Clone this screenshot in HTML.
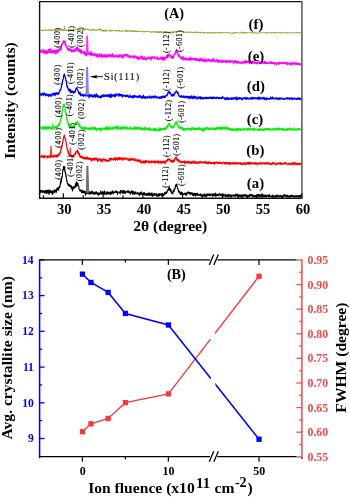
<!DOCTYPE html>
<html><head><meta charset="utf-8"><style>
html,body{margin:0;padding:0;background:#fff;overflow:hidden;}
svg{display:block;}
text{-webkit-font-smoothing:antialiased;}
.b{font-family:"Liberation Serif",serif;font-weight:bold;}
.r{font-family:"Liberation Serif",serif;}
</style></head><body>
<svg width="350" height="497" viewBox="0 0 350 497" style="will-change:transform">

<path d="M301.9,1.6 L39.6,1.6 L39.6,198.3 L301.9,198.3" fill="none" stroke="#111" stroke-width="1.4"/>
<line x1="301.9" y1="1" x2="301.9" y2="199" stroke="#606060" stroke-width="1.6"/>
<line x1="43.48" y1="198.3" x2="43.48" y2="195.3" stroke="#111" stroke-width="1.2"/><line x1="63.35" y1="198.3" x2="63.35" y2="193.3" stroke="#111" stroke-width="1.2"/><line x1="83.22" y1="198.3" x2="83.22" y2="195.3" stroke="#111" stroke-width="1.2"/><line x1="103.10" y1="198.3" x2="103.10" y2="193.3" stroke="#111" stroke-width="1.2"/><line x1="122.98" y1="198.3" x2="122.98" y2="195.3" stroke="#111" stroke-width="1.2"/><line x1="142.85" y1="198.3" x2="142.85" y2="193.3" stroke="#111" stroke-width="1.2"/><line x1="162.73" y1="198.3" x2="162.73" y2="195.3" stroke="#111" stroke-width="1.2"/><line x1="182.60" y1="198.3" x2="182.60" y2="193.3" stroke="#111" stroke-width="1.2"/><line x1="202.47" y1="198.3" x2="202.47" y2="195.3" stroke="#111" stroke-width="1.2"/><line x1="222.35" y1="198.3" x2="222.35" y2="193.3" stroke="#111" stroke-width="1.2"/><line x1="242.22" y1="198.3" x2="242.22" y2="195.3" stroke="#111" stroke-width="1.2"/><line x1="262.10" y1="198.3" x2="262.10" y2="193.3" stroke="#111" stroke-width="1.2"/><line x1="281.98" y1="198.3" x2="281.98" y2="195.3" stroke="#111" stroke-width="1.2"/><line x1="301.85" y1="198.3" x2="301.85" y2="193.3" stroke="#111" stroke-width="1.2"/>
<path d="M40.3,30.36 L40.5,30.93 L40.7,30.88 L40.9,30.21 L41.1,30.33 L41.3,30.22 L41.5,30.65 L41.7,30.37 L41.9,30.68 L42.1,29.62 L42.3,30.99 L42.5,30.25 L42.7,30.55 L42.9,30.23 L43.1,30.14 L43.3,30.50 L43.5,30.55 L43.7,30.15 L43.9,30.16 L44.1,30.45 L44.3,29.82 L44.5,29.55 L44.7,30.34 L44.9,29.96 L45.1,29.39 L45.3,29.85 L45.5,29.98 L45.7,29.65 L45.9,29.51 L46.1,30.11 L46.3,30.43 L46.5,30.07 L46.7,29.86 L46.9,30.31 L47.1,30.49 L47.3,30.06 L47.5,30.30 L47.7,30.51 L47.9,30.07 L48.1,29.93 L48.3,30.35 L48.5,30.35 L48.7,30.71 L48.9,29.71 L49.1,29.92 L49.3,29.88 L49.5,29.53 L49.7,30.23 L49.9,30.41 L50.1,29.86 L50.3,30.68 L50.5,30.63 L50.7,30.50 L50.9,30.39 L51.1,30.62 L51.3,29.71 L51.5,30.44 L51.7,30.46 L51.9,29.58 L52.1,30.40 L52.3,30.14 L52.5,30.48 L52.7,30.05 L52.9,30.15 L53.1,30.31 L53.3,29.94 L53.5,30.49 L53.7,30.28 L53.9,30.54 L54.1,30.02 L54.3,30.71 L54.5,30.57 L54.7,30.22 L54.9,30.50 L55.1,30.73 L55.3,30.94 L55.5,29.62 L55.7,30.51 L55.9,30.33 L56.1,30.06 L56.3,29.66 L56.5,30.50 L56.7,29.45 L56.9,30.17 L57.1,30.50 L57.3,29.33 L57.5,29.79 L57.7,29.41 L57.9,30.06 L58.1,30.61 L58.3,30.83 L58.5,29.30 L58.7,29.80 L58.9,30.31 L59.1,30.71 L59.3,30.26 L59.5,29.76 L59.7,30.20 L59.9,30.01 L60.1,29.96 L60.3,29.71 L60.5,30.13 L60.7,30.12 L60.9,29.97 L61.1,29.87 L61.3,29.40 L61.5,29.73 L61.7,30.36 L61.9,29.81 L62.1,29.31 L62.3,30.41 L62.5,30.12 L62.7,30.76 L62.9,30.01 L63.1,29.77 L63.3,29.34 L63.5,30.50 L63.7,30.97 L63.9,29.70 L64.1,29.86 L64.3,30.43 L64.5,29.94 L64.7,30.16 L64.9,30.15 L65.1,30.33 L65.3,30.68 L65.5,30.29 L65.7,30.49 L65.9,29.97 L66.1,30.25 L66.3,29.36 L66.5,29.58 L66.7,30.44 L66.9,29.84 L67.1,30.26 L67.3,30.18 L67.5,30.47 L67.7,30.32 L67.9,30.39 L68.1,29.98 L68.3,29.67 L68.5,29.70 L68.7,29.90 L68.9,29.61 L69.1,29.88 L69.3,30.00 L69.5,30.10 L69.7,29.87 L69.9,29.24 L70.1,30.00 L70.3,30.16 L70.5,30.40 L70.7,30.21 L70.9,29.76 L71.1,29.73 L71.3,30.82 L71.5,30.23 L71.7,30.67 L71.9,30.75 L72.1,29.61 L72.3,30.05 L72.5,30.14 L72.7,30.14 L72.9,30.16 L73.1,30.03 L73.3,30.04 L73.5,29.39 L73.7,29.85 L73.9,29.57 L74.1,29.89 L74.3,29.66 L74.5,30.12 L74.7,30.17 L74.9,30.01 L75.1,30.01 L75.3,30.03 L75.5,29.79 L75.7,29.93 L75.9,29.70 L76.1,29.94 L76.3,29.73 L76.5,29.94 L76.7,29.24 L76.9,30.15 L77.1,29.48 L77.3,29.46 L77.5,29.64 L77.7,29.49 L77.9,29.78 L78.1,29.43 L78.3,29.19 L78.5,29.29 L78.7,30.13 L78.9,29.70 L79.1,29.28 L79.3,29.81 L79.5,29.25 L79.7,30.54 L79.9,29.24 L80.1,30.00 L80.3,30.02 L80.5,29.24 L80.7,29.91 L80.9,30.17 L81.1,29.93 L81.3,29.88 L81.5,30.12 L81.7,29.83 L81.9,29.90 L82.1,29.75 L82.3,29.95 L82.5,29.35 L82.7,30.07 L82.9,29.60 L83.1,29.42 L83.3,30.00 L83.5,30.56 L83.7,30.24 L83.9,29.66 L84.1,30.15 L84.3,29.69 L84.5,29.80 L84.7,29.84 L84.9,28.89 L85.1,29.81 L85.3,29.32 L85.5,29.39 L85.7,29.00 L85.9,28.90 L86.1,29.05 L86.3,29.69 L86.5,29.94 L86.7,29.34 L86.9,29.77 L87.1,29.23 L87.3,28.54 L87.5,29.31 L87.7,29.44 L87.9,29.13 L88.1,29.40 L88.3,29.57 L88.5,29.10 L88.7,28.89 L88.9,29.49 L89.1,29.53 L89.3,29.53 L89.5,30.10 L89.7,30.38 L89.9,29.56 L90.1,30.02 L90.3,30.17 L90.5,30.13 L90.7,30.25 L90.9,29.71 L91.1,30.14 L91.3,30.64 L91.5,30.12 L91.7,29.59 L91.9,29.97 L92.1,30.23 L92.3,29.92 L92.5,29.56 L92.7,30.36 L92.9,29.37 L93.1,30.02 L93.3,29.81 L93.5,29.36 L93.7,30.34 L93.9,30.04 L94.1,29.53 L94.3,30.15 L94.5,29.86 L94.7,29.27 L94.9,29.80 L95.1,30.14 L95.3,30.33 L95.5,30.11 L95.7,30.12 L95.9,30.29 L96.1,29.98 L96.3,30.50 L96.5,30.16 L96.7,30.19 L96.9,30.19 L97.1,29.53 L97.3,29.63 L97.5,30.38 L97.7,29.91 L97.9,29.67 L98.1,29.90 L98.3,29.46 L98.5,29.73 L98.7,29.29 L98.9,29.58 L99.1,28.86 L99.3,29.95 L99.5,29.14 L99.7,28.67 L99.9,29.25 L100.1,29.28 L100.3,29.52 L100.5,29.12 L100.7,29.82 L100.9,31.06 L101.1,29.34 L101.3,30.06 L101.5,29.92 L101.7,30.19 L101.9,29.53 L102.1,29.87 L102.3,30.55 L102.5,30.39 L102.7,31.05 L102.9,30.26 L103.1,30.59 L103.3,31.64 L103.5,30.31 L103.7,30.28 L103.9,30.59 L104.1,30.60 L104.3,30.91 L104.5,30.65 L104.7,30.31 L104.9,30.69 L105.1,31.57 L105.3,31.01 L105.5,29.60 L105.7,30.58 L105.9,30.22 L106.1,30.78 L106.3,30.52 L106.5,31.29 L106.7,30.89 L106.9,30.87 L107.1,30.69 L107.3,30.58 L107.5,30.72 L107.7,31.03 L107.9,30.70 L108.1,30.47 L108.3,31.09 L108.5,30.69 L108.7,30.62 L108.9,30.47 L109.1,30.55 L109.3,30.48 L109.5,29.72 L109.7,31.12 L109.9,31.01 L110.1,30.63 L110.3,31.14 L110.5,30.94 L110.7,30.94 L110.9,29.86 L111.1,30.67 L111.3,30.95 L111.5,31.34 L111.7,31.43 L111.9,31.15 L112.1,30.16 L112.3,29.87 L112.5,30.84 L112.7,30.64 L112.9,30.92 L113.1,30.50 L113.3,30.61 L113.5,29.97 L113.7,30.72 L113.9,30.42 L114.1,30.66 L114.3,30.71 L114.5,30.51 L114.7,30.68 L114.9,30.69 L115.1,31.02 L115.3,30.89 L115.5,30.51 L115.7,30.55 L115.9,31.42 L116.1,30.71 L116.3,31.10 L116.5,30.91 L116.7,30.53 L116.9,30.53 L117.1,30.87 L117.3,30.87 L117.5,30.98 L117.7,30.36 L117.9,30.53 L118.1,30.66 L118.3,31.30 L118.5,29.92 L118.7,30.94 L118.9,30.61 L119.1,31.03 L119.3,30.74 L119.5,31.07 L119.7,31.62 L119.9,31.14 L120.1,31.22 L120.3,31.24 L120.5,30.86 L120.7,31.24 L120.9,30.97 L121.1,30.82 L121.3,31.05 L121.5,30.97 L121.7,31.28 L121.9,31.01 L122.1,30.83 L122.3,31.53 L122.5,31.33 L122.7,31.40 L122.9,31.27 L123.1,30.93 L123.3,30.84 L123.5,30.87 L123.7,31.32 L123.9,31.05 L124.1,30.43 L124.3,30.99 L124.5,30.50 L124.7,31.03 L124.9,30.54 L125.1,30.55 L125.3,31.03 L125.5,30.98 L125.7,30.39 L125.9,31.15 L126.1,31.75 L126.3,30.39 L126.5,31.61 L126.7,30.74 L126.9,30.77 L127.1,30.91 L127.3,30.45 L127.5,31.43 L127.7,31.17 L127.9,30.71 L128.1,30.86 L128.3,30.50 L128.5,30.87 L128.7,31.37 L128.9,30.37 L129.1,30.81 L129.3,31.06 L129.5,31.39 L129.7,31.49 L129.9,30.81 L130.1,30.67 L130.3,31.16 L130.5,30.85 L130.7,30.90 L130.9,31.44 L131.1,31.66 L131.3,31.08 L131.5,30.91 L131.7,31.20 L131.9,30.45 L132.1,31.08 L132.3,30.73 L132.5,31.99 L132.7,31.49 L132.9,31.27 L133.1,31.22 L133.3,30.37 L133.5,31.47 L133.7,31.85 L133.9,30.99 L134.1,31.55 L134.3,31.57 L134.5,30.82 L134.7,31.66 L134.9,31.77 L135.1,31.41 L135.3,31.29 L135.5,31.52 L135.7,30.68 L135.9,31.38 L136.1,31.76 L136.3,30.90 L136.5,31.74 L136.7,31.29 L136.9,30.72 L137.1,31.38 L137.3,31.10 L137.5,31.55 L137.7,31.04 L137.9,31.79 L138.1,31.19 L138.3,31.62 L138.5,31.33 L138.7,31.33 L138.9,31.82 L139.1,31.45 L139.3,31.29 L139.5,30.99 L139.7,31.83 L139.9,31.67 L140.1,31.30 L140.3,31.42 L140.5,30.93 L140.7,30.90 L140.9,31.00 L141.1,31.39 L141.3,31.40 L141.5,31.05 L141.7,31.59 L141.9,31.71 L142.1,31.52 L142.3,31.79 L142.5,31.33 L142.7,31.32 L142.9,31.55 L143.1,31.41 L143.3,31.86 L143.5,31.22 L143.7,32.25 L143.9,31.52 L144.1,31.73 L144.3,31.25 L144.5,31.95 L144.7,32.19 L144.9,32.04 L145.1,31.94 L145.3,31.14 L145.5,31.43 L145.7,31.53 L145.9,31.35 L146.1,32.12 L146.3,31.68 L146.5,31.55 L146.7,31.71 L146.9,31.12 L147.1,31.14 L147.3,31.17 L147.5,31.62 L147.7,31.62 L147.9,31.73 L148.1,31.88 L148.3,31.01 L148.5,31.33 L148.7,31.65 L148.9,31.14 L149.1,31.41 L149.3,32.01 L149.5,32.11 L149.7,32.12 L149.9,31.77 L150.1,31.73 L150.3,32.21 L150.5,31.78 L150.7,32.00 L150.9,32.35 L151.1,31.85 L151.3,31.78 L151.5,31.99 L151.7,32.26 L151.9,32.21 L152.1,32.10 L152.3,32.24 L152.5,31.50 L152.7,31.74 L152.9,32.12 L153.1,31.72 L153.3,31.55 L153.5,31.59 L153.7,31.73 L153.9,31.94 L154.1,31.58 L154.3,32.03 L154.5,32.52 L154.7,31.84 L154.9,32.43 L155.1,32.11 L155.3,31.63 L155.5,31.92 L155.7,31.72 L155.9,32.36 L156.1,31.65 L156.3,32.51 L156.5,32.25 L156.7,31.41 L156.9,32.36 L157.1,32.70 L157.3,31.88 L157.5,32.51 L157.7,31.55 L157.9,32.18 L158.1,31.52 L158.3,32.27 L158.5,31.50 L158.7,31.17 L158.9,32.19 L159.1,32.90 L159.3,31.89 L159.5,32.38 L159.7,32.11 L159.9,31.99 L160.1,32.21 L160.3,32.57 L160.5,31.61 L160.7,32.28 L160.9,32.24 L161.1,31.65 L161.3,32.66 L161.5,32.75 L161.7,31.68 L161.9,32.59 L162.1,32.05 L162.3,31.94 L162.5,32.45 L162.7,31.93 L162.9,32.01 L163.1,32.52 L163.3,32.53 L163.5,32.39 L163.7,31.53 L163.9,31.36 L164.1,32.24 L164.3,31.61 L164.5,31.92 L164.7,31.58 L164.9,31.89 L165.1,31.50 L165.3,32.54 L165.5,31.73 L165.7,32.12 L165.9,32.10 L166.1,32.56 L166.3,31.66 L166.5,32.05 L166.7,32.01 L166.9,32.36 L167.1,32.40 L167.3,32.06 L167.5,32.39 L167.7,32.19 L167.9,32.53 L168.1,32.31 L168.3,32.16 L168.5,32.37 L168.7,32.49 L168.9,33.17 L169.1,32.26 L169.3,32.44 L169.5,32.90 L169.7,31.69 L169.9,31.82 L170.1,32.04 L170.3,32.42 L170.5,33.26 L170.7,32.58 L170.9,32.85 L171.1,32.38 L171.3,31.63 L171.5,31.66 L171.7,32.75 L171.9,32.43 L172.1,31.89 L172.3,32.66 L172.5,31.81 L172.7,32.77 L172.9,32.78 L173.1,31.98 L173.3,31.85 L173.5,32.49 L173.7,31.86 L173.9,32.45 L174.1,31.67 L174.3,32.30 L174.5,32.07 L174.7,31.94 L174.9,31.74 L175.1,32.09 L175.3,31.44 L175.5,31.88 L175.7,31.80 L175.9,32.20 L176.1,31.46 L176.3,32.46 L176.5,31.72 L176.7,31.38 L176.9,32.19 L177.1,32.31 L177.3,31.66 L177.5,31.40 L177.7,31.66 L177.9,31.41 L178.1,31.46 L178.3,32.03 L178.5,31.54 L178.7,31.40 L178.9,31.42 L179.1,31.28 L179.3,31.44 L179.5,31.39 L179.7,31.01 L179.9,31.14 L180.1,31.87 L180.3,31.18 L180.5,30.97 L180.7,31.74 L180.9,31.10 L181.1,30.85 L181.3,31.48 L181.5,31.09 L181.7,31.32 L181.9,31.63 L182.1,31.54 L182.3,31.43 L182.5,31.59 L182.7,31.60 L182.9,32.22 L183.1,31.71 L183.3,31.82 L183.5,32.72 L183.7,31.85 L183.9,32.59 L184.1,32.53 L184.3,32.08 L184.5,31.73 L184.7,32.23 L184.9,32.30 L185.1,32.31 L185.3,32.05 L185.5,32.47 L185.7,32.54 L185.9,31.80 L186.1,32.58 L186.3,32.27 L186.5,32.05 L186.7,32.14 L186.9,32.79 L187.1,32.52 L187.3,31.60 L187.5,32.15 L187.7,32.18 L187.9,32.22 L188.1,32.18 L188.3,31.92 L188.5,32.62 L188.7,31.99 L188.9,32.18 L189.1,32.14 L189.3,32.05 L189.5,32.50 L189.7,32.40 L189.9,32.08 L190.1,31.92 L190.3,32.12 L190.5,32.57 L190.7,32.29 L190.9,32.34 L191.1,32.19 L191.3,32.27 L191.5,32.41 L191.7,31.76 L191.9,32.87 L192.1,32.14 L192.3,32.20 L192.5,32.78 L192.7,32.46 L192.9,32.40 L193.1,32.25 L193.3,31.94 L193.5,32.51 L193.7,32.83 L193.9,32.16 L194.1,32.87 L194.3,32.00 L194.5,32.14 L194.7,32.56 L194.9,32.36 L195.1,32.49 L195.3,32.10 L195.5,32.07 L195.7,31.80 L195.9,32.02 L196.1,32.06 L196.3,31.92 L196.5,32.45 L196.7,32.17 L196.9,31.72 L197.1,33.14 L197.3,32.03 L197.5,31.96 L197.7,32.78 L197.9,32.81 L198.1,32.10 L198.3,31.92 L198.5,32.10 L198.7,32.74 L198.9,32.32 L199.1,32.18 L199.3,32.39 L199.5,32.88 L199.7,31.98 L199.9,32.33 L200.1,32.02 L200.3,33.14 L200.5,33.01 L200.7,32.73 L200.9,32.38 L201.1,32.64 L201.3,31.80 L201.5,32.55 L201.7,32.06 L201.9,32.12 L202.1,32.34 L202.3,32.51 L202.5,32.80 L202.7,32.89 L202.9,32.73 L203.1,32.37 L203.3,32.95 L203.5,32.74 L203.7,33.17 L203.9,32.53 L204.1,31.99 L204.3,32.68 L204.5,33.45 L204.7,32.91 L204.9,32.67 L205.1,32.97 L205.3,32.81 L205.5,32.76 L205.7,32.47 L205.9,32.66 L206.1,32.61 L206.3,32.35 L206.5,32.14 L206.7,32.51 L206.9,32.77 L207.1,32.61 L207.3,32.65 L207.5,32.67 L207.7,33.34 L207.9,32.54 L208.1,32.82 L208.3,33.13 L208.5,32.53 L208.7,32.63 L208.9,32.92 L209.1,33.19 L209.3,32.73 L209.5,32.80 L209.7,32.73 L209.9,32.31 L210.1,33.17 L210.3,32.68 L210.5,32.23 L210.7,32.72 L210.9,32.28 L211.1,32.50 L211.3,32.81 L211.5,32.51 L211.7,33.11 L211.9,32.30 L212.1,32.86 L212.3,33.01 L212.5,33.27 L212.7,33.10 L212.9,32.92 L213.1,32.78 L213.3,32.73 L213.5,33.14 L213.7,32.51 L213.9,32.90 L214.1,32.81 L214.3,32.85 L214.5,32.77 L214.7,33.45 L214.9,32.60 L215.1,32.92 L215.3,32.96 L215.5,33.00 L215.7,32.90 L215.9,32.83 L216.1,33.04 L216.3,32.28 L216.5,32.70 L216.7,32.40 L216.9,32.85 L217.1,32.33 L217.3,32.46 L217.5,32.63 L217.7,33.18 L217.9,32.83 L218.1,32.73 L218.3,33.00 L218.5,32.31 L218.7,31.99 L218.9,32.53 L219.1,32.55 L219.3,33.01 L219.5,33.25 L219.7,32.23 L219.9,33.34 L220.1,33.09 L220.3,32.87 L220.5,32.76 L220.7,33.34 L220.9,32.76 L221.1,32.53 L221.3,32.72 L221.5,32.33 L221.7,32.86 L221.9,32.68 L222.1,32.82 L222.3,32.79 L222.5,32.33 L222.7,32.95 L222.9,32.29 L223.1,32.84 L223.3,32.12 L223.5,32.75 L223.7,32.34 L223.9,32.59 L224.1,32.46 L224.3,31.99 L224.5,32.29 L224.7,32.67 L224.9,32.87 L225.1,32.26 L225.3,32.06 L225.5,32.56 L225.7,32.79 L225.9,32.65 L226.1,32.56 L226.3,33.05 L226.5,33.09 L226.7,33.07 L226.9,32.59 L227.1,32.87 L227.3,32.80 L227.5,32.31 L227.7,33.00 L227.9,32.75 L228.1,32.54 L228.3,33.13 L228.5,32.90 L228.7,33.00 L228.9,33.17 L229.1,33.08 L229.3,32.46 L229.5,32.72 L229.7,33.08 L229.9,32.54 L230.1,32.78 L230.3,32.88 L230.5,33.28 L230.7,33.24 L230.9,33.11 L231.1,32.86 L231.3,33.32 L231.5,33.21 L231.7,33.01 L231.9,33.40 L232.1,33.09 L232.3,32.82 L232.5,33.40 L232.7,33.01 L232.9,33.23 L233.1,32.62 L233.3,33.08 L233.5,32.83 L233.7,32.79 L233.9,32.53 L234.1,33.71 L234.3,32.91 L234.5,32.97 L234.7,33.24 L234.9,32.89 L235.1,33.12 L235.3,32.43 L235.5,32.89 L235.7,32.66 L235.9,32.88 L236.1,32.79 L236.3,32.37 L236.5,32.17 L236.7,32.42 L236.9,32.91 L237.1,32.77 L237.3,32.75 L237.5,32.15 L237.7,31.93 L237.9,32.50 L238.1,32.53 L238.3,32.60 L238.5,32.95 L238.7,32.82 L238.9,32.59 L239.1,32.71 L239.3,32.92 L239.5,32.93 L239.7,32.97 L239.9,33.64 L240.1,32.90 L240.3,33.01 L240.5,32.59 L240.7,32.77 L240.9,33.01 L241.1,33.00 L241.3,32.69 L241.5,32.83 L241.7,32.76 L241.9,32.17 L242.1,31.74 L242.3,33.39 L242.5,32.99 L242.7,32.63 L242.9,32.18 L243.1,32.32 L243.3,33.14 L243.5,31.94 L243.7,32.65 L243.9,33.00 L244.1,32.78 L244.3,33.02 L244.5,32.69 L244.7,33.42 L244.9,32.46 L245.1,32.40 L245.3,32.88 L245.5,33.24 L245.7,32.90 L245.9,33.15 L246.1,32.66 L246.3,32.45 L246.5,33.19 L246.7,33.22 L246.9,33.23 L247.1,32.68 L247.3,32.40 L247.5,32.38 L247.7,32.60 L247.9,32.83 L248.1,32.79 L248.3,32.25 L248.5,32.64 L248.7,32.55 L248.9,32.67 L249.1,32.73 L249.3,32.68 L249.5,32.86 L249.7,32.68 L249.9,32.70 L250.1,32.47 L250.3,32.88 L250.5,32.78 L250.7,32.26 L250.9,32.95 L251.1,32.69 L251.3,32.95 L251.5,32.66 L251.7,32.69 L251.9,32.74 L252.1,32.65 L252.3,32.56 L252.5,32.21 L252.7,33.27 L252.9,32.32 L253.1,32.74 L253.3,32.94 L253.5,32.87 L253.7,32.88 L253.9,32.99 L254.1,33.18 L254.3,32.91 L254.5,33.64 L254.7,32.56 L254.9,32.91 L255.1,32.70 L255.3,32.65 L255.5,32.91 L255.7,33.29 L255.9,32.73 L256.1,32.67 L256.3,33.05 L256.5,33.07 L256.7,33.51 L256.9,33.26 L257.1,33.01 L257.3,32.87 L257.5,33.06 L257.7,32.98 L257.9,32.61 L258.1,33.06 L258.3,32.99 L258.5,32.96 L258.7,32.87 L258.9,33.40 L259.1,33.17 L259.3,33.23 L259.5,32.74 L259.7,32.55 L259.9,32.75 L260.1,32.85 L260.3,32.70 L260.5,32.63 L260.7,32.92 L260.9,32.80 L261.1,32.42 L261.3,32.60 L261.5,32.54 L261.7,32.78 L261.9,32.48 L262.1,32.68 L262.3,32.91 L262.5,32.70 L262.7,32.49 L262.9,32.57 L263.1,32.74 L263.3,32.85 L263.5,33.02 L263.7,32.72 L263.9,32.41 L264.1,33.13 L264.3,32.82 L264.5,32.90 L264.7,32.81 L264.9,32.44 L265.1,32.70 L265.3,32.86 L265.5,33.04 L265.7,32.76 L265.9,31.92 L266.1,32.77 L266.3,32.96 L266.5,33.23 L266.7,33.12 L266.9,33.58 L267.1,33.27 L267.3,33.21 L267.5,33.06 L267.7,32.37 L267.9,32.87 L268.1,32.80 L268.3,32.50 L268.5,32.85 L268.7,32.77 L268.9,32.49 L269.1,32.62 L269.3,32.53 L269.5,32.63 L269.7,32.50 L269.9,32.74 L270.1,32.11 L270.3,32.59 L270.5,32.18 L270.7,32.59 L270.9,32.88 L271.1,32.70 L271.3,32.66 L271.5,32.71 L271.7,33.16 L271.9,32.48 L272.1,32.99 L272.3,32.40 L272.5,32.75 L272.7,32.89 L272.9,32.65 L273.1,32.93 L273.3,32.99 L273.5,32.56 L273.7,32.84 L273.9,32.83 L274.1,32.38 L274.3,32.95 L274.5,32.75 L274.7,33.31 L274.9,32.75 L275.1,33.37 L275.3,32.72 L275.5,33.24 L275.7,32.80 L275.9,32.69 L276.1,32.80 L276.3,32.87 L276.5,32.97 L276.7,33.10 L276.9,32.57 L277.1,32.40 L277.3,31.93 L277.5,32.56 L277.7,32.84 L277.9,32.75 L278.1,32.74 L278.3,32.63 L278.5,32.61 L278.7,32.77 L278.9,33.00 L279.1,32.45 L279.3,33.08 L279.5,32.57 L279.7,32.90 L279.9,32.69 L280.1,32.75 L280.3,32.61 L280.5,32.57 L280.7,32.85 L280.9,32.60 L281.1,33.53 L281.3,32.79 L281.5,32.75 L281.7,32.78 L281.9,32.61 L282.1,32.21 L282.3,32.74 L282.5,32.90 L282.7,32.40 L282.9,32.85 L283.1,32.55 L283.3,32.81 L283.5,32.90 L283.7,32.94 L283.9,32.90 L284.1,32.64 L284.3,33.06 L284.5,32.71 L284.7,32.89 L284.9,33.03 L285.1,32.80 L285.3,32.63 L285.5,33.14 L285.7,32.65 L285.9,32.70 L286.1,32.67 L286.3,33.15 L286.5,32.90 L286.7,32.33 L286.9,33.02 L287.1,33.32 L287.3,33.25 L287.5,32.64 L287.7,32.81 L287.9,32.93 L288.1,33.11 L288.3,32.85 L288.5,32.51 L288.7,33.00 L288.9,32.97 L289.1,32.44 L289.3,32.71 L289.5,32.86 L289.7,32.78 L289.9,33.01 L290.1,33.08 L290.3,33.03 L290.5,32.85 L290.7,32.55 L290.9,32.95 L291.1,33.10 L291.3,33.24 L291.5,32.71 L291.7,32.77 L291.9,33.11 L292.1,33.16 L292.3,32.87 L292.5,33.01 L292.7,32.66 L292.9,32.99 L293.1,32.66 L293.3,32.79 L293.5,32.80 L293.7,32.69 L293.9,32.38 L294.1,32.76 L294.3,33.03 L294.5,32.86 L294.7,32.71 L294.9,32.88 L295.1,32.89 L295.3,32.95 L295.5,32.49 L295.7,32.68 L295.9,32.52 L296.1,32.35 L296.3,32.19 L296.5,32.59 L296.7,32.45 L296.9,33.16 L297.1,32.50 L297.3,32.49 L297.5,32.54 L297.7,33.07 L297.9,32.42 L298.1,32.70 L298.3,32.54 L298.5,32.74 L298.7,32.79 L298.9,33.09 L299.1,32.50 L299.3,32.87 L299.5,33.24 L299.7,32.69 L299.9,32.80 L300.1,32.63 L300.3,32.21 L300.5,32.80 L300.7,33.17 L300.9,32.76" stroke="#9c9c24" stroke-width="0.9" fill="none" stroke-linejoin="round"/><path d="M63.50,31.0 L64.00,26.1 L64.80,26.1 L65.60,31.0 Z" fill="#a8a840"/><path d="M40.3,52.33 L40.5,52.35 L40.7,49.93 L40.9,52.08 L41.1,51.03 L41.3,51.69 L41.5,50.88 L41.7,50.76 L41.9,52.44 L42.1,51.54 L42.3,51.25 L42.5,51.25 L42.7,51.61 L42.9,51.57 L43.1,49.35 L43.3,50.77 L43.5,51.49 L43.7,52.38 L43.9,52.96 L44.1,50.96 L44.3,53.61 L44.5,52.01 L44.7,52.27 L44.9,51.27 L45.1,51.13 L45.3,53.01 L45.5,51.47 L45.7,51.50 L45.9,52.59 L46.1,53.10 L46.3,50.21 L46.5,51.39 L46.7,51.50 L46.9,53.23 L47.1,53.75 L47.3,51.38 L47.5,51.75 L47.7,52.33 L47.9,52.61 L48.1,51.28 L48.3,52.40 L48.5,51.00 L48.7,49.26 L48.9,50.55 L49.1,52.00 L49.3,52.42 L49.5,49.53 L49.7,50.01 L49.9,51.58 L50.1,48.51 L50.3,52.26 L50.5,52.70 L50.7,49.03 L50.9,52.45 L51.1,51.61 L51.3,52.94 L51.5,51.89 L51.7,51.44 L51.9,51.74 L52.1,52.50 L52.3,51.79 L52.5,51.70 L52.7,50.21 L52.9,51.98 L53.1,51.59 L53.3,53.05 L53.5,51.27 L53.7,51.17 L53.9,50.64 L54.1,51.89 L54.3,51.07 L54.5,50.65 L54.7,52.75 L54.9,52.87 L55.1,50.88 L55.3,50.31 L55.5,52.25 L55.7,50.53 L55.9,53.86 L56.1,51.10 L56.3,52.07 L56.5,49.96 L56.7,51.06 L56.9,52.07 L57.1,51.38 L57.3,50.46 L57.5,53.01 L57.7,51.28 L57.9,50.33 L58.1,49.84 L58.3,50.16 L58.5,51.45 L58.7,49.45 L58.9,49.92 L59.1,49.10 L59.3,50.79 L59.5,49.35 L59.7,49.99 L59.9,49.40 L60.1,48.05 L60.3,48.99 L60.5,48.87 L60.7,46.72 L60.9,48.03 L61.1,50.17 L61.3,46.22 L61.5,46.66 L61.7,44.27 L61.9,45.47 L62.1,44.00 L62.3,44.74 L62.5,43.52 L62.7,42.03 L62.9,43.74 L63.1,42.17 L63.3,41.05 L63.5,41.86 L63.7,40.81 L63.9,41.95 L64.1,41.54 L64.3,41.45 L64.5,42.44 L64.7,41.14 L64.9,43.61 L65.1,41.30 L65.3,45.11 L65.5,44.32 L65.7,44.49 L65.9,44.41 L66.1,46.07 L66.3,45.91 L66.5,46.29 L66.7,47.72 L66.9,46.82 L67.1,47.25 L67.3,48.12 L67.5,49.11 L67.7,48.20 L67.9,48.61 L68.1,48.76 L68.3,49.50 L68.5,50.38 L68.7,48.24 L68.9,49.25 L69.1,49.40 L69.3,49.97 L69.5,50.76 L69.7,49.49 L69.9,49.65 L70.1,50.69 L70.3,48.63 L70.5,49.11 L70.7,49.44 L70.9,49.97 L71.1,50.30 L71.3,49.76 L71.5,51.82 L71.7,49.75 L71.9,50.26 L72.1,51.47 L72.3,51.38 L72.5,50.84 L72.7,51.16 L72.9,51.64 L73.1,50.87 L73.3,51.37 L73.5,50.07 L73.7,51.01 L73.9,49.36 L74.1,49.95 L74.3,49.69 L74.5,51.74 L74.7,50.05 L74.9,50.43 L75.1,49.15 L75.3,49.62 L75.5,49.37 L75.7,48.63 L75.9,50.05 L76.1,47.60 L76.3,49.52 L76.5,51.10 L76.7,47.82 L76.9,48.68 L77.1,47.23 L77.3,48.57 L77.5,47.23 L77.7,49.65 L77.9,48.93 L78.1,48.15 L78.3,48.88 L78.5,48.78 L78.7,50.35 L78.9,51.48 L79.1,50.64 L79.3,50.12 L79.5,50.55 L79.7,51.64 L79.9,49.45 L80.1,52.32 L80.3,52.31 L80.5,49.79 L80.7,53.03 L80.9,50.60 L81.1,51.85 L81.3,53.10 L81.5,50.71 L81.7,50.44 L81.9,51.20 L82.1,51.16 L82.3,52.09 L82.5,51.84 L82.7,51.93 L82.9,51.91 L83.1,52.20 L83.3,51.63 L83.5,52.77 L83.7,52.55 L83.9,51.74 L84.1,54.39 L84.3,51.67 L84.5,53.52 L84.7,52.41 L84.9,53.39 L85.1,53.70 L85.3,54.08 L85.5,54.59 L85.7,52.51 L85.9,55.92 L86.1,53.72 L86.3,52.66 L86.5,52.22 L86.7,55.50 L86.9,54.92 L87.1,53.33 L87.3,54.02 L87.5,54.49 L87.7,53.28 L87.9,52.93 L88.1,53.25 L88.3,54.14 L88.5,53.54 L88.7,52.51 L88.9,54.37 L89.1,52.27 L89.3,53.13 L89.5,54.87 L89.7,53.97 L89.9,54.01 L90.1,54.03 L90.3,54.94 L90.5,54.02 L90.7,52.38 L90.9,54.34 L91.1,51.49 L91.3,52.29 L91.5,55.48 L91.7,55.06 L91.9,53.65 L92.1,54.06 L92.3,54.32 L92.5,55.12 L92.7,53.65 L92.9,53.63 L93.1,53.82 L93.3,54.50 L93.5,54.69 L93.7,54.19 L93.9,55.36 L94.1,53.73 L94.3,54.64 L94.5,54.27 L94.7,53.99 L94.9,56.01 L95.1,54.60 L95.3,54.07 L95.5,55.12 L95.7,54.30 L95.9,55.69 L96.1,55.98 L96.3,56.19 L96.5,54.44 L96.7,55.26 L96.9,56.96 L97.1,55.18 L97.3,56.49 L97.5,56.51 L97.7,54.00 L97.9,56.34 L98.1,56.05 L98.3,56.27 L98.5,56.93 L98.7,55.84 L98.9,55.51 L99.1,55.98 L99.3,55.17 L99.5,55.83 L99.7,53.63 L99.9,57.01 L100.1,55.11 L100.3,56.12 L100.5,56.00 L100.7,55.82 L100.9,55.82 L101.1,55.78 L101.3,54.14 L101.5,55.14 L101.7,56.68 L101.9,54.84 L102.1,54.90 L102.3,57.62 L102.5,56.80 L102.7,57.15 L102.9,55.67 L103.1,55.96 L103.3,56.40 L103.5,56.26 L103.7,55.81 L103.9,54.60 L104.1,55.15 L104.3,54.55 L104.5,57.25 L104.7,55.55 L104.9,55.61 L105.1,55.93 L105.3,55.78 L105.5,56.32 L105.7,55.37 L105.9,54.66 L106.1,57.53 L106.3,55.41 L106.5,55.64 L106.7,55.35 L106.9,55.56 L107.1,56.19 L107.3,56.75 L107.5,55.11 L107.7,56.13 L107.9,55.40 L108.1,56.99 L108.3,54.89 L108.5,56.09 L108.7,56.50 L108.9,54.56 L109.1,55.75 L109.3,55.73 L109.5,54.92 L109.7,55.30 L109.9,56.23 L110.1,55.54 L110.3,54.95 L110.5,55.22 L110.7,55.95 L110.9,56.62 L111.1,56.27 L111.3,56.22 L111.5,56.92 L111.7,54.43 L111.9,54.65 L112.1,53.97 L112.3,56.64 L112.5,53.98 L112.7,55.91 L112.9,56.70 L113.1,54.94 L113.3,55.68 L113.5,56.12 L113.7,56.85 L113.9,54.98 L114.1,56.42 L114.3,56.71 L114.5,56.12 L114.7,56.11 L114.9,57.04 L115.1,56.08 L115.3,55.85 L115.5,55.66 L115.7,56.58 L115.9,55.82 L116.1,56.56 L116.3,56.02 L116.5,56.80 L116.7,55.26 L116.9,55.97 L117.1,56.23 L117.3,56.37 L117.5,57.03 L117.7,56.34 L117.9,56.77 L118.1,57.71 L118.3,56.82 L118.5,55.13 L118.7,54.77 L118.9,56.42 L119.1,55.46 L119.3,55.97 L119.5,55.56 L119.7,56.75 L119.9,56.61 L120.1,54.80 L120.3,55.86 L120.5,55.42 L120.7,54.61 L120.9,56.18 L121.1,55.54 L121.3,56.01 L121.5,57.76 L121.7,56.82 L121.9,56.68 L122.1,55.44 L122.3,54.87 L122.5,56.84 L122.7,55.60 L122.9,55.96 L123.1,55.53 L123.3,56.01 L123.5,57.96 L123.7,55.53 L123.9,55.57 L124.1,55.97 L124.3,56.03 L124.5,54.78 L124.7,54.19 L124.9,55.22 L125.1,55.63 L125.3,55.05 L125.5,54.87 L125.7,54.89 L125.9,55.23 L126.1,55.48 L126.3,54.26 L126.5,55.10 L126.7,56.03 L126.9,55.63 L127.1,54.64 L127.3,55.50 L127.5,55.90 L127.7,56.64 L127.9,54.74 L128.1,56.65 L128.3,55.82 L128.5,56.54 L128.7,56.96 L128.9,55.85 L129.1,56.09 L129.3,56.69 L129.5,57.41 L129.7,56.40 L129.9,55.73 L130.1,56.31 L130.3,57.11 L130.5,57.71 L130.7,56.28 L130.9,56.41 L131.1,56.55 L131.3,56.68 L131.5,56.08 L131.7,56.46 L131.9,56.95 L132.1,56.70 L132.3,56.58 L132.5,55.86 L132.7,56.22 L132.9,56.11 L133.1,57.52 L133.3,57.92 L133.5,57.00 L133.7,58.12 L133.9,56.51 L134.1,56.51 L134.3,55.70 L134.5,56.87 L134.7,56.36 L134.9,56.94 L135.1,57.38 L135.3,56.86 L135.5,56.05 L135.7,56.89 L135.9,56.93 L136.1,57.04 L136.3,57.55 L136.5,56.92 L136.7,56.96 L136.9,58.71 L137.1,58.28 L137.3,57.38 L137.5,56.64 L137.7,57.19 L137.9,57.84 L138.1,58.22 L138.3,59.57 L138.5,57.55 L138.7,58.06 L138.9,57.68 L139.1,58.09 L139.3,57.77 L139.5,57.19 L139.7,58.76 L139.9,58.03 L140.1,58.90 L140.3,57.40 L140.5,57.96 L140.7,58.11 L140.9,56.12 L141.1,56.50 L141.3,58.16 L141.5,57.58 L141.7,55.98 L141.9,56.79 L142.1,56.53 L142.3,57.02 L142.5,58.69 L142.7,57.18 L142.9,59.32 L143.1,57.44 L143.3,57.10 L143.5,59.05 L143.7,58.64 L143.9,58.99 L144.1,59.58 L144.3,58.79 L144.5,59.03 L144.7,56.75 L144.9,57.49 L145.1,58.64 L145.3,58.56 L145.5,58.96 L145.7,58.02 L145.9,59.26 L146.1,60.13 L146.3,59.03 L146.5,59.20 L146.7,59.00 L146.9,59.30 L147.1,58.63 L147.3,58.03 L147.5,58.50 L147.7,58.29 L147.9,57.12 L148.1,58.33 L148.3,58.08 L148.5,58.19 L148.7,57.44 L148.9,58.29 L149.1,58.30 L149.3,57.28 L149.5,58.14 L149.7,58.52 L149.9,58.49 L150.1,57.25 L150.3,57.28 L150.5,58.13 L150.7,57.36 L150.9,60.20 L151.1,57.66 L151.3,57.77 L151.5,58.92 L151.7,58.08 L151.9,56.48 L152.1,58.21 L152.3,57.40 L152.5,57.75 L152.7,56.91 L152.9,57.48 L153.1,57.99 L153.3,57.96 L153.5,57.14 L153.7,57.37 L153.9,57.11 L154.1,58.03 L154.3,57.72 L154.5,56.83 L154.7,58.39 L154.9,57.51 L155.1,58.38 L155.3,57.45 L155.5,58.37 L155.7,57.92 L155.9,58.14 L156.1,58.71 L156.3,58.68 L156.5,58.42 L156.7,58.58 L156.9,57.59 L157.1,58.45 L157.3,56.88 L157.5,56.87 L157.7,58.36 L157.9,58.39 L158.1,59.75 L158.3,59.14 L158.5,59.55 L158.7,58.56 L158.9,59.08 L159.1,59.36 L159.3,58.92 L159.5,58.80 L159.7,58.49 L159.9,57.55 L160.1,57.59 L160.3,57.08 L160.5,58.50 L160.7,58.03 L160.9,57.71 L161.1,58.51 L161.3,57.65 L161.5,58.95 L161.7,59.57 L161.9,58.42 L162.1,57.68 L162.3,57.01 L162.5,59.78 L162.7,58.66 L162.9,57.52 L163.1,59.17 L163.3,57.14 L163.5,58.16 L163.7,58.34 L163.9,58.19 L164.1,57.59 L164.3,60.46 L164.5,58.27 L164.7,58.87 L164.9,58.58 L165.1,57.24 L165.3,58.00 L165.5,58.49 L165.7,58.96 L165.9,57.85 L166.1,58.26 L166.3,57.54 L166.5,58.15 L166.7,55.62 L166.9,57.69 L167.1,56.50 L167.3,56.29 L167.5,54.29 L167.7,55.38 L167.9,56.37 L168.1,57.38 L168.3,54.74 L168.5,54.57 L168.7,55.09 L168.9,54.70 L169.1,54.02 L169.3,54.29 L169.5,54.03 L169.7,54.79 L169.9,55.16 L170.1,56.13 L170.3,55.68 L170.5,55.84 L170.7,55.70 L170.9,56.61 L171.1,55.42 L171.3,58.12 L171.5,56.82 L171.7,57.95 L171.9,56.43 L172.1,57.85 L172.3,57.36 L172.5,56.83 L172.7,56.50 L172.9,56.37 L173.1,58.32 L173.3,57.76 L173.5,56.70 L173.7,56.52 L173.9,55.57 L174.1,54.44 L174.3,54.15 L174.5,54.71 L174.7,54.47 L174.9,53.24 L175.1,54.19 L175.3,53.53 L175.5,52.90 L175.7,50.95 L175.9,51.60 L176.1,51.53 L176.3,50.33 L176.5,49.43 L176.7,52.64 L176.9,51.71 L177.1,51.32 L177.3,53.23 L177.5,53.38 L177.7,53.57 L177.9,53.95 L178.1,54.88 L178.3,55.85 L178.5,55.28 L178.7,55.48 L178.9,56.55 L179.1,54.20 L179.3,56.70 L179.5,56.71 L179.7,57.26 L179.9,57.44 L180.1,57.88 L180.3,57.73 L180.5,57.89 L180.7,57.75 L180.9,58.23 L181.1,57.63 L181.3,58.90 L181.5,56.90 L181.7,58.41 L181.9,58.64 L182.1,57.37 L182.3,58.09 L182.5,59.36 L182.7,58.26 L182.9,57.77 L183.1,56.26 L183.3,58.81 L183.5,58.53 L183.7,58.98 L183.9,60.14 L184.1,58.54 L184.3,58.52 L184.5,57.99 L184.7,58.43 L184.9,58.46 L185.1,59.13 L185.3,58.97 L185.5,58.05 L185.7,58.29 L185.9,59.67 L186.1,57.98 L186.3,59.30 L186.5,59.93 L186.7,59.24 L186.9,58.88 L187.1,59.80 L187.3,59.16 L187.5,58.88 L187.7,58.81 L187.9,59.86 L188.1,59.55 L188.3,60.18 L188.5,58.82 L188.7,58.83 L188.9,58.80 L189.1,59.34 L189.3,58.60 L189.5,59.81 L189.7,59.44 L189.9,58.49 L190.1,57.09 L190.3,57.95 L190.5,60.42 L190.7,59.23 L190.9,59.37 L191.1,58.95 L191.3,59.63 L191.5,58.02 L191.7,57.99 L191.9,58.17 L192.1,59.46 L192.3,59.90 L192.5,59.80 L192.7,59.26 L192.9,58.41 L193.1,59.85 L193.3,58.98 L193.5,59.17 L193.7,59.24 L193.9,58.95 L194.1,58.82 L194.3,58.89 L194.5,58.30 L194.7,59.37 L194.9,59.13 L195.1,60.01 L195.3,58.11 L195.5,60.24 L195.7,59.39 L195.9,59.33 L196.1,59.02 L196.3,59.15 L196.5,58.66 L196.7,60.36 L196.9,59.55 L197.1,60.17 L197.3,60.32 L197.5,59.36 L197.7,59.67 L197.9,59.58 L198.1,60.49 L198.3,59.72 L198.5,59.76 L198.7,60.19 L198.9,59.63 L199.1,61.15 L199.3,59.04 L199.5,60.63 L199.7,60.66 L199.9,58.73 L200.1,60.25 L200.3,59.86 L200.5,60.31 L200.7,58.82 L200.9,59.84 L201.1,59.00 L201.3,59.60 L201.5,60.89 L201.7,59.83 L201.9,58.49 L202.1,59.07 L202.3,59.31 L202.5,60.77 L202.7,59.70 L202.9,59.22 L203.1,61.23 L203.3,60.55 L203.5,60.61 L203.7,59.87 L203.9,61.40 L204.1,60.37 L204.3,58.97 L204.5,59.68 L204.7,59.85 L204.9,60.31 L205.1,60.98 L205.3,59.78 L205.5,59.84 L205.7,61.89 L205.9,60.41 L206.1,59.79 L206.3,60.18 L206.5,59.38 L206.7,60.50 L206.9,61.02 L207.1,59.89 L207.3,61.05 L207.5,60.14 L207.7,60.58 L207.9,59.77 L208.1,59.79 L208.3,59.39 L208.5,60.79 L208.7,60.31 L208.9,60.27 L209.1,59.76 L209.3,59.74 L209.5,59.96 L209.7,60.80 L209.9,60.61 L210.1,59.90 L210.3,60.69 L210.5,61.64 L210.7,60.47 L210.9,61.80 L211.1,60.60 L211.3,61.21 L211.5,59.89 L211.7,61.16 L211.9,59.63 L212.1,60.50 L212.3,60.13 L212.5,59.08 L212.7,59.51 L212.9,61.24 L213.1,60.80 L213.3,61.33 L213.5,60.58 L213.7,58.47 L213.9,60.72 L214.1,60.27 L214.3,60.36 L214.5,60.47 L214.7,60.25 L214.9,60.04 L215.1,61.71 L215.3,61.14 L215.5,60.35 L215.7,60.58 L215.9,61.56 L216.1,61.16 L216.3,61.00 L216.5,60.00 L216.7,60.54 L216.9,60.04 L217.1,59.54 L217.3,61.48 L217.5,60.60 L217.7,60.50 L217.9,60.18 L218.1,61.36 L218.3,62.38 L218.5,61.45 L218.7,61.61 L218.9,60.19 L219.1,61.14 L219.3,61.27 L219.5,62.21 L219.7,61.13 L219.9,60.60 L220.1,61.13 L220.3,60.83 L220.5,62.05 L220.7,61.61 L220.9,61.31 L221.1,61.18 L221.3,61.69 L221.5,60.70 L221.7,60.53 L221.9,59.84 L222.1,62.09 L222.3,61.61 L222.5,61.59 L222.7,61.23 L222.9,62.37 L223.1,60.53 L223.3,62.19 L223.5,60.86 L223.7,61.05 L223.9,60.64 L224.1,61.70 L224.3,61.31 L224.5,61.89 L224.7,61.14 L224.9,60.55 L225.1,61.85 L225.3,62.33 L225.5,62.13 L225.7,61.64 L225.9,62.03 L226.1,60.60 L226.3,61.34 L226.5,62.38 L226.7,62.00 L226.9,61.01 L227.1,62.17 L227.3,61.51 L227.5,62.01 L227.7,60.64 L227.9,61.32 L228.1,62.03 L228.3,61.92 L228.5,62.01 L228.7,61.62 L228.9,61.35 L229.1,61.87 L229.3,62.21 L229.5,60.51 L229.7,61.29 L229.9,61.50 L230.1,61.70 L230.3,62.28 L230.5,60.82 L230.7,62.07 L230.9,60.50 L231.1,61.02 L231.3,61.26 L231.5,61.66 L231.7,61.46 L231.9,61.50 L232.1,61.62 L232.3,61.68 L232.5,60.79 L232.7,60.99 L232.9,61.55 L233.1,62.20 L233.3,62.57 L233.5,63.78 L233.7,61.98 L233.9,61.35 L234.1,62.03 L234.3,62.31 L234.5,61.73 L234.7,60.96 L234.9,61.61 L235.1,61.64 L235.3,60.81 L235.5,60.83 L235.7,62.58 L235.9,60.50 L236.1,62.03 L236.3,61.78 L236.5,62.91 L236.7,62.30 L236.9,61.34 L237.1,62.72 L237.3,61.47 L237.5,63.23 L237.7,63.00 L237.9,61.94 L238.1,62.54 L238.3,62.20 L238.5,61.54 L238.7,62.87 L238.9,62.36 L239.1,62.69 L239.3,62.78 L239.5,63.02 L239.7,62.81 L239.9,62.19 L240.1,62.37 L240.3,62.67 L240.5,62.28 L240.7,62.15 L240.9,63.49 L241.1,62.60 L241.3,63.50 L241.5,61.90 L241.7,62.39 L241.9,62.13 L242.1,62.11 L242.3,62.13 L242.5,62.23 L242.7,62.11 L242.9,63.50 L243.1,62.71 L243.3,61.83 L243.5,61.88 L243.7,62.75 L243.9,62.65 L244.1,61.89 L244.3,62.77 L244.5,61.16 L244.7,61.73 L244.9,63.23 L245.1,60.53 L245.3,62.17 L245.5,62.90 L245.7,62.07 L245.9,61.66 L246.1,61.53 L246.3,60.78 L246.5,61.46 L246.7,62.42 L246.9,62.05 L247.1,62.42 L247.3,62.45 L247.5,62.71 L247.7,61.35 L247.9,62.13 L248.1,62.06 L248.3,61.95 L248.5,61.57 L248.7,60.68 L248.9,62.48 L249.1,62.75 L249.3,63.71 L249.5,62.69 L249.7,63.23 L249.9,62.48 L250.1,61.77 L250.3,62.32 L250.5,61.32 L250.7,62.24 L250.9,62.00 L251.1,61.46 L251.3,62.96 L251.5,62.95 L251.7,62.57 L251.9,62.77 L252.1,63.28 L252.3,62.13 L252.5,61.22 L252.7,61.39 L252.9,62.45 L253.1,62.18 L253.3,61.06 L253.5,62.82 L253.7,62.29 L253.9,63.18 L254.1,62.91 L254.3,62.00 L254.5,62.31 L254.7,61.93 L254.9,62.00 L255.1,62.39 L255.3,63.00 L255.5,63.62 L255.7,62.33 L255.9,63.37 L256.1,63.05 L256.3,62.92 L256.5,63.83 L256.7,62.77 L256.9,63.87 L257.1,62.66 L257.3,62.32 L257.5,63.45 L257.7,62.12 L257.9,62.19 L258.1,62.74 L258.3,62.87 L258.5,62.72 L258.7,61.64 L258.9,62.04 L259.1,63.20 L259.3,63.20 L259.5,62.17 L259.7,62.96 L259.9,62.91 L260.1,63.40 L260.3,62.27 L260.5,63.53 L260.7,62.41 L260.9,63.58 L261.1,63.20 L261.3,61.92 L261.5,62.37 L261.7,62.80 L261.9,63.29 L262.1,61.83 L262.3,62.38 L262.5,63.03 L262.7,63.05 L262.9,62.16 L263.1,62.34 L263.3,63.14 L263.5,62.20 L263.7,62.90 L263.9,63.24 L264.1,62.70 L264.3,61.11 L264.5,63.39 L264.7,63.28 L264.9,63.43 L265.1,63.11 L265.3,61.58 L265.5,63.57 L265.7,62.86 L265.9,63.16 L266.1,62.55 L266.3,62.49 L266.5,62.57 L266.7,63.65 L266.9,62.93 L267.1,62.75 L267.3,62.04 L267.5,63.09 L267.7,62.85 L267.9,62.94 L268.1,63.47 L268.3,63.40 L268.5,62.91 L268.7,63.07 L268.9,63.03 L269.1,63.34 L269.3,63.30 L269.5,62.93 L269.7,62.42 L269.9,63.31 L270.1,63.24 L270.3,62.16 L270.5,63.10 L270.7,62.67 L270.9,61.63 L271.1,62.87 L271.3,63.42 L271.5,62.39 L271.7,62.37 L271.9,63.42 L272.1,62.17 L272.3,62.35 L272.5,62.78 L272.7,63.34 L272.9,63.49 L273.1,62.86 L273.3,62.91 L273.5,63.24 L273.7,62.87 L273.9,62.53 L274.1,62.47 L274.3,63.52 L274.5,63.05 L274.7,64.94 L274.9,63.58 L275.1,62.75 L275.3,63.17 L275.5,63.36 L275.7,63.40 L275.9,63.42 L276.1,63.46 L276.3,63.12 L276.5,63.51 L276.7,64.66 L276.9,63.09 L277.1,63.13 L277.3,63.71 L277.5,63.92 L277.7,63.75 L277.9,63.96 L278.1,63.17 L278.3,63.10 L278.5,63.61 L278.7,63.63 L278.9,64.19 L279.1,64.16 L279.3,62.18 L279.5,63.78 L279.7,62.83 L279.9,62.07 L280.1,63.46 L280.3,63.10 L280.5,62.98 L280.7,62.43 L280.9,62.63 L281.1,63.12 L281.3,62.35 L281.5,63.30 L281.7,63.45 L281.9,63.27 L282.1,63.46 L282.3,63.18 L282.5,62.68 L282.7,62.69 L282.9,63.31 L283.1,63.80 L283.3,63.49 L283.5,63.11 L283.7,63.35 L283.9,62.20 L284.1,62.73 L284.3,63.24 L284.5,63.34 L284.7,63.15 L284.9,63.19 L285.1,62.66 L285.3,63.04 L285.5,63.38 L285.7,62.18 L285.9,62.52 L286.1,63.10 L286.3,64.10 L286.5,63.70 L286.7,64.30 L286.9,64.22 L287.1,63.20 L287.3,63.33 L287.5,62.66 L287.7,64.11 L287.9,63.84 L288.1,63.81 L288.3,63.94 L288.5,63.90 L288.7,63.72 L288.9,63.74 L289.1,64.24 L289.3,63.16 L289.5,63.00 L289.7,63.76 L289.9,64.31 L290.1,63.85 L290.3,63.63 L290.5,64.33 L290.7,63.85 L290.9,62.80 L291.1,63.38 L291.3,62.79 L291.5,63.77 L291.7,63.66 L291.9,64.30 L292.1,65.27 L292.3,63.65 L292.5,63.97 L292.7,63.64 L292.9,62.29 L293.1,63.42 L293.3,63.39 L293.5,63.82 L293.7,63.26 L293.9,63.00 L294.1,64.03 L294.3,63.52 L294.5,63.04 L294.7,63.18 L294.9,63.30 L295.1,63.90 L295.3,64.33 L295.5,62.82 L295.7,64.18 L295.9,63.68 L296.1,63.91 L296.3,64.27 L296.5,63.20 L296.7,64.12 L296.9,62.83 L297.1,63.20 L297.3,63.05 L297.5,64.56 L297.7,64.36 L297.9,63.93 L298.1,63.83 L298.3,63.16 L298.5,64.48 L298.7,64.35 L298.9,64.09 L299.1,63.59 L299.3,63.45 L299.5,63.63 L299.7,64.51 L299.9,63.26 L300.1,63.95 L300.3,64.80 L300.5,64.34 L300.7,64.96 L300.9,64.24" stroke="#ff00ff" stroke-width="1.25" fill="none" stroke-linejoin="round"/><path d="M85.80,53.9 L86.30,35.5 L87.90,35.5 L88.70,53.9 Z" fill="#ff30ff"/><path d="M40.3,93.51 L40.5,93.31 L40.7,94.81 L40.9,94.54 L41.1,94.66 L41.3,94.43 L41.5,95.53 L41.7,95.13 L41.9,94.93 L42.1,93.50 L42.3,93.86 L42.5,93.01 L42.7,93.36 L42.9,93.96 L43.1,93.09 L43.3,93.61 L43.5,95.54 L43.7,93.82 L43.9,92.87 L44.1,93.07 L44.3,94.01 L44.5,94.76 L44.7,94.05 L44.9,94.82 L45.1,94.59 L45.3,93.58 L45.5,95.24 L45.7,94.20 L45.9,95.94 L46.1,94.14 L46.3,94.46 L46.5,94.22 L46.7,94.42 L46.9,94.87 L47.1,94.39 L47.3,95.37 L47.5,94.76 L47.7,95.74 L47.9,94.66 L48.1,95.58 L48.3,95.48 L48.5,94.54 L48.7,96.53 L48.9,95.86 L49.1,95.20 L49.3,94.66 L49.5,94.78 L49.7,94.75 L49.9,95.26 L50.1,94.15 L50.3,95.01 L50.5,94.49 L50.7,96.08 L50.9,95.31 L51.1,95.82 L51.3,96.29 L51.5,94.75 L51.7,95.99 L51.9,94.70 L52.1,94.70 L52.3,93.44 L52.5,94.15 L52.7,95.19 L52.9,94.32 L53.1,93.76 L53.3,94.09 L53.5,93.58 L53.7,93.62 L53.9,93.17 L54.1,95.00 L54.3,94.94 L54.5,94.02 L54.7,93.07 L54.9,93.88 L55.1,95.62 L55.3,93.12 L55.5,93.70 L55.7,93.61 L55.9,94.62 L56.1,92.97 L56.3,94.11 L56.5,93.12 L56.7,93.40 L56.9,92.63 L57.1,93.95 L57.3,93.11 L57.5,92.97 L57.7,94.01 L57.9,93.30 L58.1,94.71 L58.3,93.23 L58.5,92.87 L58.7,92.70 L58.9,94.27 L59.1,92.97 L59.3,91.46 L59.5,91.73 L59.7,90.71 L59.9,91.24 L60.1,90.05 L60.3,89.55 L60.5,89.90 L60.7,90.09 L60.9,89.21 L61.1,88.33 L61.3,87.08 L61.5,84.57 L61.7,85.41 L61.9,84.68 L62.1,84.28 L62.3,84.13 L62.5,82.34 L62.7,79.71 L62.9,79.99 L63.1,78.85 L63.3,78.68 L63.5,77.24 L63.7,75.05 L63.9,75.15 L64.1,75.31 L64.3,73.85 L64.5,75.19 L64.7,75.39 L64.9,76.77 L65.1,76.46 L65.3,76.84 L65.5,78.06 L65.7,78.95 L65.9,80.66 L66.1,80.22 L66.3,80.23 L66.5,84.80 L66.7,84.42 L66.9,84.81 L67.1,87.24 L67.3,85.43 L67.5,86.46 L67.7,87.25 L67.9,88.47 L68.1,88.28 L68.3,89.68 L68.5,89.22 L68.7,90.68 L68.9,90.19 L69.1,88.78 L69.3,90.08 L69.5,89.47 L69.7,90.24 L69.9,90.37 L70.1,92.19 L70.3,90.34 L70.5,89.50 L70.7,90.91 L70.9,90.13 L71.1,92.51 L71.3,91.88 L71.5,92.56 L71.7,91.39 L71.9,91.14 L72.1,92.22 L72.3,91.08 L72.5,91.51 L72.7,91.77 L72.9,92.35 L73.1,91.30 L73.3,91.08 L73.5,93.52 L73.7,92.08 L73.9,92.21 L74.1,92.57 L74.3,92.31 L74.5,91.29 L74.7,91.07 L74.9,92.32 L75.1,91.84 L75.3,91.32 L75.5,91.57 L75.7,88.64 L75.9,89.80 L76.1,89.28 L76.3,87.74 L76.5,89.21 L76.7,89.23 L76.9,88.92 L77.1,87.61 L77.3,88.92 L77.5,89.56 L77.7,89.68 L77.9,90.43 L78.1,90.99 L78.3,91.97 L78.5,91.48 L78.7,93.55 L78.9,92.22 L79.1,92.71 L79.3,93.48 L79.5,93.15 L79.7,93.27 L79.9,94.65 L80.1,92.37 L80.3,92.80 L80.5,95.73 L80.7,94.91 L80.9,94.95 L81.1,94.87 L81.3,94.99 L81.5,94.20 L81.7,94.83 L81.9,94.31 L82.1,95.80 L82.3,95.39 L82.5,95.07 L82.7,95.27 L82.9,94.87 L83.1,94.07 L83.3,96.13 L83.5,95.46 L83.7,94.79 L83.9,95.41 L84.1,95.94 L84.3,95.77 L84.5,95.45 L84.7,95.60 L84.9,94.78 L85.1,96.00 L85.3,95.75 L85.5,95.79 L85.7,94.12 L85.9,95.63 L86.1,95.70 L86.3,95.86 L86.5,93.35 L86.7,93.97 L86.9,95.40 L87.1,94.55 L87.3,95.77 L87.5,95.51 L87.7,96.16 L87.9,95.24 L88.1,94.88 L88.3,96.05 L88.5,95.48 L88.7,94.79 L88.9,94.20 L89.1,97.89 L89.3,95.44 L89.5,95.64 L89.7,94.39 L89.9,95.11 L90.1,95.66 L90.3,95.96 L90.5,96.21 L90.7,95.14 L90.9,96.11 L91.1,96.62 L91.3,95.40 L91.5,95.75 L91.7,94.64 L91.9,95.33 L92.1,94.95 L92.3,96.42 L92.5,95.84 L92.7,97.18 L92.9,96.14 L93.1,96.62 L93.3,96.34 L93.5,96.14 L93.7,95.15 L93.9,97.01 L94.1,95.81 L94.3,94.58 L94.5,95.38 L94.7,94.99 L94.9,96.69 L95.1,96.61 L95.3,96.91 L95.5,97.30 L95.7,95.26 L95.9,94.42 L96.1,94.99 L96.3,95.96 L96.5,93.79 L96.7,95.45 L96.9,96.55 L97.1,95.24 L97.3,95.79 L97.5,95.41 L97.7,97.28 L97.9,97.45 L98.1,95.40 L98.3,95.58 L98.5,96.34 L98.7,96.72 L98.9,96.47 L99.1,96.71 L99.3,97.06 L99.5,97.24 L99.7,97.68 L99.9,96.49 L100.1,96.07 L100.3,96.28 L100.5,97.91 L100.7,96.93 L100.9,96.76 L101.1,97.10 L101.3,96.97 L101.5,97.73 L101.7,95.45 L101.9,96.17 L102.1,96.62 L102.3,96.59 L102.5,95.64 L102.7,94.65 L102.9,95.61 L103.1,95.32 L103.3,95.90 L103.5,96.65 L103.7,96.24 L103.9,94.99 L104.1,95.36 L104.3,95.94 L104.5,96.67 L104.7,95.82 L104.9,96.17 L105.1,94.88 L105.3,95.56 L105.5,95.22 L105.7,96.12 L105.9,95.74 L106.1,95.35 L106.3,95.06 L106.5,96.06 L106.7,95.52 L106.9,96.70 L107.1,95.93 L107.3,95.66 L107.5,96.45 L107.7,94.95 L107.9,96.37 L108.1,95.16 L108.3,96.36 L108.5,95.53 L108.7,95.22 L108.9,94.46 L109.1,95.82 L109.3,96.21 L109.5,94.85 L109.7,97.19 L109.9,95.92 L110.1,95.12 L110.3,97.33 L110.5,95.67 L110.7,96.91 L110.9,93.93 L111.1,97.46 L111.3,95.98 L111.5,95.76 L111.7,95.99 L111.9,94.97 L112.1,96.36 L112.3,96.01 L112.5,95.98 L112.7,95.20 L112.9,94.78 L113.1,95.80 L113.3,96.10 L113.5,95.56 L113.7,95.24 L113.9,94.95 L114.1,95.87 L114.3,96.36 L114.5,95.18 L114.7,94.67 L114.9,96.99 L115.1,94.21 L115.3,95.52 L115.5,95.06 L115.7,96.12 L115.9,95.11 L116.1,94.09 L116.3,94.47 L116.5,95.28 L116.7,95.23 L116.9,94.72 L117.1,94.72 L117.3,93.99 L117.5,94.03 L117.7,94.73 L117.9,94.64 L118.1,94.94 L118.3,94.00 L118.5,96.04 L118.7,93.77 L118.9,95.58 L119.1,95.29 L119.3,95.94 L119.5,95.89 L119.7,93.96 L119.9,95.17 L120.1,95.43 L120.3,95.55 L120.5,95.30 L120.7,94.36 L120.9,95.82 L121.1,94.82 L121.3,94.66 L121.5,95.19 L121.7,94.82 L121.9,94.72 L122.1,95.38 L122.3,97.19 L122.5,95.57 L122.7,95.47 L122.9,95.15 L123.1,95.71 L123.3,94.73 L123.5,96.06 L123.7,95.97 L123.9,95.71 L124.1,96.03 L124.3,95.58 L124.5,96.26 L124.7,96.10 L124.9,96.17 L125.1,95.73 L125.3,96.39 L125.5,95.70 L125.7,96.69 L125.9,95.71 L126.1,96.73 L126.3,96.04 L126.5,95.64 L126.7,94.94 L126.9,96.26 L127.1,96.13 L127.3,95.94 L127.5,96.27 L127.7,96.13 L127.9,95.40 L128.1,95.25 L128.3,96.54 L128.5,96.25 L128.7,97.23 L128.9,97.65 L129.1,96.92 L129.3,96.83 L129.5,96.84 L129.7,96.62 L129.9,96.13 L130.1,94.79 L130.3,97.11 L130.5,96.89 L130.7,96.47 L130.9,96.51 L131.1,97.13 L131.3,97.13 L131.5,96.66 L131.7,96.34 L131.9,96.82 L132.1,96.95 L132.3,97.84 L132.5,95.78 L132.7,96.79 L132.9,95.74 L133.1,95.90 L133.3,97.81 L133.5,95.93 L133.7,96.14 L133.9,95.94 L134.1,96.94 L134.3,96.04 L134.5,95.21 L134.7,96.47 L134.9,97.09 L135.1,96.47 L135.3,96.62 L135.5,96.02 L135.7,95.94 L135.9,96.63 L136.1,95.96 L136.3,96.52 L136.5,96.23 L136.7,96.73 L136.9,97.42 L137.1,96.83 L137.3,97.72 L137.5,97.13 L137.7,96.82 L137.9,96.19 L138.1,96.87 L138.3,96.07 L138.5,97.45 L138.7,95.93 L138.9,96.04 L139.1,96.47 L139.3,95.92 L139.5,97.03 L139.7,96.47 L139.9,96.71 L140.1,97.43 L140.3,95.41 L140.5,96.75 L140.7,97.11 L140.9,97.62 L141.1,97.03 L141.3,96.59 L141.5,97.57 L141.7,97.60 L141.9,98.37 L142.1,98.27 L142.3,96.55 L142.5,97.63 L142.7,96.85 L142.9,95.93 L143.1,97.17 L143.3,97.52 L143.5,95.12 L143.7,97.78 L143.9,96.35 L144.1,98.09 L144.3,97.07 L144.5,97.06 L144.7,97.98 L144.9,96.80 L145.1,98.53 L145.3,96.54 L145.5,96.84 L145.7,96.53 L145.9,97.56 L146.1,97.14 L146.3,97.85 L146.5,98.07 L146.7,97.78 L146.9,97.99 L147.1,97.95 L147.3,97.14 L147.5,96.78 L147.7,96.68 L147.9,97.84 L148.1,97.03 L148.3,96.79 L148.5,96.78 L148.7,97.14 L148.9,97.52 L149.1,97.27 L149.3,96.73 L149.5,97.72 L149.7,95.86 L149.9,97.14 L150.1,98.05 L150.3,97.54 L150.5,98.13 L150.7,97.25 L150.9,97.62 L151.1,97.24 L151.3,96.95 L151.5,97.54 L151.7,98.00 L151.9,96.02 L152.1,96.81 L152.3,96.08 L152.5,96.88 L152.7,96.54 L152.9,96.96 L153.1,97.01 L153.3,97.78 L153.5,97.94 L153.7,96.63 L153.9,96.78 L154.1,97.53 L154.3,96.69 L154.5,96.82 L154.7,95.89 L154.9,97.60 L155.1,97.19 L155.3,96.22 L155.5,96.00 L155.7,96.27 L155.9,97.27 L156.1,96.76 L156.3,96.40 L156.5,97.01 L156.7,97.86 L156.9,98.10 L157.1,98.13 L157.3,97.43 L157.5,97.58 L157.7,97.46 L157.9,97.83 L158.1,97.79 L158.3,96.86 L158.5,97.01 L158.7,97.29 L158.9,98.10 L159.1,97.30 L159.3,97.15 L159.5,98.24 L159.7,98.42 L159.9,96.93 L160.1,97.49 L160.3,98.19 L160.5,97.15 L160.7,98.15 L160.9,96.54 L161.1,97.25 L161.3,97.67 L161.5,98.25 L161.7,97.76 L161.9,96.04 L162.1,96.10 L162.3,96.42 L162.5,97.60 L162.7,97.45 L162.9,97.66 L163.1,97.25 L163.3,96.47 L163.5,96.60 L163.7,96.22 L163.9,97.36 L164.1,96.02 L164.3,96.87 L164.5,96.84 L164.7,97.55 L164.9,96.14 L165.1,96.79 L165.3,95.89 L165.5,97.09 L165.7,96.16 L165.9,95.98 L166.1,95.55 L166.3,95.58 L166.5,95.28 L166.7,95.06 L166.9,95.93 L167.1,94.23 L167.3,94.81 L167.5,94.94 L167.7,93.31 L167.9,92.36 L168.1,93.62 L168.3,91.79 L168.5,91.99 L168.7,92.13 L168.9,92.31 L169.1,91.73 L169.3,91.43 L169.5,92.64 L169.7,92.23 L169.9,93.56 L170.1,92.13 L170.3,92.88 L170.5,93.27 L170.7,94.01 L170.9,94.13 L171.1,94.34 L171.3,95.88 L171.5,94.76 L171.7,95.42 L171.9,95.35 L172.1,95.00 L172.3,95.94 L172.5,94.18 L172.7,96.18 L172.9,94.44 L173.1,95.18 L173.3,95.32 L173.5,94.73 L173.7,94.49 L173.9,95.36 L174.1,95.88 L174.3,94.69 L174.5,93.84 L174.7,92.99 L174.9,92.51 L175.1,93.40 L175.3,92.83 L175.5,92.92 L175.7,92.36 L175.9,92.24 L176.1,90.83 L176.3,90.80 L176.5,90.84 L176.7,91.53 L176.9,91.60 L177.1,92.11 L177.3,91.81 L177.5,93.08 L177.7,93.84 L177.9,93.82 L178.1,92.45 L178.3,94.42 L178.5,94.53 L178.7,95.70 L178.9,95.34 L179.1,96.19 L179.3,95.66 L179.5,96.19 L179.7,96.76 L179.9,96.25 L180.1,96.77 L180.3,96.67 L180.5,97.02 L180.7,96.58 L180.9,96.90 L181.1,95.46 L181.3,96.51 L181.5,97.20 L181.7,97.06 L181.9,96.09 L182.1,96.16 L182.3,97.05 L182.5,97.08 L182.7,97.16 L182.9,96.79 L183.1,96.78 L183.3,97.38 L183.5,96.16 L183.7,95.88 L183.9,97.39 L184.1,96.37 L184.3,97.28 L184.5,96.38 L184.7,96.26 L184.9,97.96 L185.1,96.93 L185.3,96.07 L185.5,96.87 L185.7,96.91 L185.9,96.95 L186.1,97.16 L186.3,96.34 L186.5,96.94 L186.7,97.43 L186.9,97.58 L187.1,97.26 L187.3,96.69 L187.5,96.12 L187.7,98.10 L187.9,96.44 L188.1,96.79 L188.3,97.03 L188.5,97.23 L188.7,97.02 L188.9,96.60 L189.1,97.09 L189.3,98.45 L189.5,98.70 L189.7,97.03 L189.9,97.57 L190.1,96.17 L190.3,97.35 L190.5,97.64 L190.7,97.05 L190.9,98.34 L191.1,97.91 L191.3,97.89 L191.5,95.90 L191.7,97.09 L191.9,97.93 L192.1,97.27 L192.3,96.56 L192.5,97.32 L192.7,98.55 L192.9,98.07 L193.1,98.09 L193.3,97.66 L193.5,98.40 L193.7,95.81 L193.9,96.72 L194.1,98.54 L194.3,97.86 L194.5,97.56 L194.7,97.19 L194.9,96.28 L195.1,97.02 L195.3,97.11 L195.5,96.66 L195.7,98.14 L195.9,97.84 L196.1,97.13 L196.3,97.89 L196.5,97.49 L196.7,97.65 L196.9,97.32 L197.1,99.13 L197.3,97.00 L197.5,97.74 L197.7,98.41 L197.9,98.36 L198.1,96.96 L198.3,97.42 L198.5,97.76 L198.7,97.31 L198.9,97.44 L199.1,97.70 L199.3,97.81 L199.5,98.50 L199.7,96.94 L199.9,98.44 L200.1,97.66 L200.3,98.00 L200.5,97.37 L200.7,99.05 L200.9,96.61 L201.1,98.20 L201.3,97.31 L201.5,97.56 L201.7,98.60 L201.9,97.75 L202.1,98.36 L202.3,98.72 L202.5,97.50 L202.7,98.99 L202.9,98.69 L203.1,97.85 L203.3,98.10 L203.5,97.62 L203.7,98.17 L203.9,98.64 L204.1,98.68 L204.3,98.22 L204.5,97.72 L204.7,97.72 L204.9,97.50 L205.1,98.06 L205.3,98.49 L205.5,97.90 L205.7,97.84 L205.9,97.60 L206.1,98.54 L206.3,97.95 L206.5,97.09 L206.7,98.58 L206.9,98.50 L207.1,98.01 L207.3,97.77 L207.5,98.02 L207.7,97.46 L207.9,98.51 L208.1,98.66 L208.3,98.45 L208.5,97.84 L208.7,97.72 L208.9,97.87 L209.1,98.47 L209.3,97.14 L209.5,97.62 L209.7,97.27 L209.9,97.12 L210.1,98.02 L210.3,98.36 L210.5,97.08 L210.7,98.19 L210.9,97.97 L211.1,97.89 L211.3,98.38 L211.5,97.32 L211.7,98.69 L211.9,97.53 L212.1,98.27 L212.3,97.08 L212.5,98.48 L212.7,97.98 L212.9,97.44 L213.1,97.23 L213.3,98.03 L213.5,98.61 L213.7,98.26 L213.9,97.83 L214.1,97.46 L214.3,97.41 L214.5,97.83 L214.7,97.08 L214.9,97.76 L215.1,98.41 L215.3,97.76 L215.5,97.82 L215.7,97.61 L215.9,98.35 L216.1,98.19 L216.3,98.60 L216.5,97.54 L216.7,97.18 L216.9,97.51 L217.1,97.20 L217.3,97.83 L217.5,97.55 L217.7,97.39 L217.9,97.86 L218.1,98.42 L218.3,98.40 L218.5,97.67 L218.7,97.96 L218.9,98.25 L219.1,98.50 L219.3,98.02 L219.5,97.36 L219.7,98.30 L219.9,97.51 L220.1,97.85 L220.3,97.82 L220.5,98.62 L220.7,97.83 L220.9,98.21 L221.1,97.96 L221.3,97.73 L221.5,98.54 L221.7,97.85 L221.9,98.24 L222.1,98.18 L222.3,96.92 L222.5,97.03 L222.7,96.32 L222.9,98.30 L223.1,98.27 L223.3,97.86 L223.5,97.80 L223.7,97.99 L223.9,97.87 L224.1,98.32 L224.3,98.24 L224.5,97.83 L224.7,99.11 L224.9,98.97 L225.1,98.18 L225.3,99.59 L225.5,99.88 L225.7,99.19 L225.9,99.01 L226.1,98.08 L226.3,98.34 L226.5,97.69 L226.7,98.24 L226.9,99.02 L227.1,98.25 L227.3,97.58 L227.5,99.24 L227.7,99.52 L227.9,99.33 L228.1,97.73 L228.3,99.05 L228.5,98.12 L228.7,98.48 L228.9,99.24 L229.1,99.70 L229.3,98.45 L229.5,98.63 L229.7,98.09 L229.9,98.62 L230.1,98.13 L230.3,98.46 L230.5,99.26 L230.7,98.84 L230.9,98.91 L231.1,98.87 L231.3,99.20 L231.5,99.46 L231.7,97.93 L231.9,97.50 L232.1,98.60 L232.3,98.65 L232.5,98.90 L232.7,98.61 L232.9,99.27 L233.1,98.50 L233.3,97.77 L233.5,98.58 L233.7,97.50 L233.9,97.58 L234.1,98.26 L234.3,97.85 L234.5,98.58 L234.7,97.99 L234.9,99.19 L235.1,97.73 L235.3,98.68 L235.5,98.09 L235.7,99.19 L235.9,98.07 L236.1,98.92 L236.3,96.80 L236.5,98.18 L236.7,99.56 L236.9,98.76 L237.1,98.64 L237.3,99.09 L237.5,99.86 L237.7,97.89 L237.9,98.50 L238.1,98.18 L238.3,98.91 L238.5,98.10 L238.7,97.63 L238.9,97.66 L239.1,98.87 L239.3,98.63 L239.5,98.80 L239.7,97.55 L239.9,97.91 L240.1,98.12 L240.3,98.84 L240.5,98.63 L240.7,98.37 L240.9,97.83 L241.1,98.69 L241.3,98.25 L241.5,99.05 L241.7,99.53 L241.9,98.68 L242.1,97.97 L242.3,99.84 L242.5,98.98 L242.7,98.72 L242.9,98.56 L243.1,98.65 L243.3,98.56 L243.5,98.73 L243.7,97.73 L243.9,98.20 L244.1,98.45 L244.3,98.50 L244.5,98.53 L244.7,98.57 L244.9,97.31 L245.1,97.75 L245.3,97.95 L245.5,98.45 L245.7,98.31 L245.9,99.36 L246.1,97.99 L246.3,98.10 L246.5,97.30 L246.7,99.10 L246.9,98.19 L247.1,98.10 L247.3,97.95 L247.5,98.32 L247.7,98.09 L247.9,99.05 L248.1,98.01 L248.3,98.17 L248.5,98.07 L248.7,98.62 L248.9,98.51 L249.1,98.90 L249.3,98.79 L249.5,98.93 L249.7,98.62 L249.9,99.08 L250.1,98.81 L250.3,98.61 L250.5,97.60 L250.7,98.17 L250.9,98.03 L251.1,97.40 L251.3,99.02 L251.5,99.20 L251.7,99.08 L251.9,98.78 L252.1,99.19 L252.3,97.57 L252.5,98.98 L252.7,97.35 L252.9,98.45 L253.1,98.50 L253.3,98.72 L253.5,98.65 L253.7,98.72 L253.9,97.90 L254.1,97.87 L254.3,97.93 L254.5,98.32 L254.7,98.10 L254.9,97.44 L255.1,99.01 L255.3,97.78 L255.5,98.18 L255.7,98.04 L255.9,97.99 L256.1,98.69 L256.3,98.09 L256.5,97.79 L256.7,98.16 L256.9,98.03 L257.1,97.79 L257.3,98.94 L257.5,99.06 L257.7,97.66 L257.9,99.37 L258.1,99.33 L258.3,97.78 L258.5,98.66 L258.7,98.33 L258.9,98.89 L259.1,96.80 L259.3,98.60 L259.5,98.19 L259.7,98.72 L259.9,99.00 L260.1,97.31 L260.3,98.46 L260.5,98.47 L260.7,98.81 L260.9,99.02 L261.1,98.85 L261.3,97.96 L261.5,98.75 L261.7,98.00 L261.9,98.83 L262.1,98.45 L262.3,98.49 L262.5,98.56 L262.7,97.58 L262.9,98.02 L263.1,97.62 L263.3,98.72 L263.5,98.91 L263.7,97.61 L263.9,97.23 L264.1,98.56 L264.3,98.19 L264.5,97.98 L264.7,99.61 L264.9,98.28 L265.1,98.07 L265.3,98.39 L265.5,98.71 L265.7,99.29 L265.9,98.78 L266.1,98.04 L266.3,98.46 L266.5,99.80 L266.7,97.97 L266.9,98.73 L267.1,99.21 L267.3,98.78 L267.5,98.65 L267.7,98.23 L267.9,98.65 L268.1,98.76 L268.3,98.64 L268.5,99.10 L268.7,98.78 L268.9,99.34 L269.1,98.72 L269.3,99.08 L269.5,98.42 L269.7,99.34 L269.9,99.03 L270.1,98.71 L270.3,97.85 L270.5,98.35 L270.7,96.90 L270.9,98.25 L271.1,98.51 L271.3,97.93 L271.5,98.35 L271.7,98.65 L271.9,99.14 L272.1,98.24 L272.3,97.42 L272.5,96.99 L272.7,98.09 L272.9,98.62 L273.1,98.79 L273.3,98.29 L273.5,97.96 L273.7,97.88 L273.9,98.12 L274.1,98.20 L274.3,98.52 L274.5,98.44 L274.7,99.20 L274.9,98.40 L275.1,98.55 L275.3,98.85 L275.5,98.69 L275.7,97.97 L275.9,97.55 L276.1,97.75 L276.3,98.66 L276.5,98.66 L276.7,98.48 L276.9,98.78 L277.1,99.16 L277.3,98.18 L277.5,99.57 L277.7,99.68 L277.9,98.78 L278.1,98.46 L278.3,98.66 L278.5,97.87 L278.7,98.62 L278.9,98.18 L279.1,98.46 L279.3,98.25 L279.5,99.44 L279.7,98.14 L279.9,98.59 L280.1,98.15 L280.3,99.17 L280.5,99.09 L280.7,98.01 L280.9,98.20 L281.1,98.62 L281.3,98.20 L281.5,98.80 L281.7,98.58 L281.9,98.08 L282.1,98.52 L282.3,98.87 L282.5,98.69 L282.7,98.86 L282.9,99.03 L283.1,98.79 L283.3,99.47 L283.5,98.20 L283.7,98.99 L283.9,98.55 L284.1,99.07 L284.3,99.35 L284.5,99.18 L284.7,99.25 L284.9,99.26 L285.1,99.16 L285.3,98.80 L285.5,99.13 L285.7,99.10 L285.9,98.99 L286.1,98.78 L286.3,98.71 L286.5,97.57 L286.7,98.04 L286.9,98.32 L287.1,98.90 L287.3,98.94 L287.5,98.47 L287.7,97.75 L287.9,98.55 L288.1,98.81 L288.3,98.79 L288.5,98.14 L288.7,97.99 L288.9,98.14 L289.1,97.96 L289.3,98.89 L289.5,98.62 L289.7,99.52 L289.9,99.30 L290.1,99.05 L290.3,98.19 L290.5,98.80 L290.7,98.73 L290.9,97.91 L291.1,97.93 L291.3,98.18 L291.5,99.15 L291.7,98.45 L291.9,97.94 L292.1,98.63 L292.3,98.94 L292.5,98.08 L292.7,99.55 L292.9,98.29 L293.1,99.14 L293.3,98.96 L293.5,98.27 L293.7,98.62 L293.9,98.75 L294.1,98.62 L294.3,99.04 L294.5,98.76 L294.7,97.95 L294.9,98.87 L295.1,98.43 L295.3,98.90 L295.5,98.98 L295.7,98.86 L295.9,99.34 L296.1,98.73 L296.3,98.47 L296.5,99.51 L296.7,99.04 L296.9,98.60 L297.1,98.67 L297.3,98.58 L297.5,98.85 L297.7,98.29 L297.9,99.45 L298.1,99.21 L298.3,97.59 L298.5,98.32 L298.7,98.75 L298.9,98.47 L299.1,97.93 L299.3,99.25 L299.5,98.43 L299.7,99.31 L299.9,99.15 L300.1,99.58 L300.3,98.44 L300.5,99.63 L300.7,98.25 L300.9,99.55" stroke="#0000ff" stroke-width="1.2" fill="none" stroke-linejoin="round"/><path d="M85.60,95.2 L86.10,67.1 L88.10,67.1 L88.90,95.2 Z" fill="#8080ff"/><path d="M40.3,127.65 L40.5,127.62 L40.7,126.80 L40.9,128.39 L41.1,128.16 L41.3,127.81 L41.5,128.30 L41.7,127.50 L41.9,128.66 L42.1,127.53 L42.3,127.21 L42.5,127.93 L42.7,128.01 L42.9,128.45 L43.1,128.60 L43.3,129.30 L43.5,126.92 L43.7,126.74 L43.9,128.16 L44.1,128.93 L44.3,128.57 L44.5,127.69 L44.7,127.52 L44.9,127.43 L45.1,128.95 L45.3,127.58 L45.5,127.84 L45.7,126.65 L45.9,128.32 L46.1,127.59 L46.3,127.45 L46.5,127.43 L46.7,127.52 L46.9,129.72 L47.1,128.28 L47.3,128.38 L47.5,127.29 L47.7,126.93 L47.9,126.37 L48.1,127.48 L48.3,128.01 L48.5,128.09 L48.7,126.82 L48.9,128.37 L49.1,127.52 L49.3,128.84 L49.5,127.96 L49.7,128.30 L49.9,127.71 L50.1,127.65 L50.3,128.20 L50.5,128.54 L50.7,128.59 L50.9,127.52 L51.1,127.22 L51.3,128.40 L51.5,129.12 L51.7,127.80 L51.9,127.80 L52.1,127.66 L52.3,128.25 L52.5,128.63 L52.7,127.14 L52.9,128.14 L53.1,128.90 L53.3,128.28 L53.5,127.22 L53.7,126.60 L53.9,127.61 L54.1,128.50 L54.3,128.07 L54.5,128.54 L54.7,127.18 L54.9,127.52 L55.1,126.87 L55.3,127.75 L55.5,127.20 L55.7,126.64 L55.9,126.75 L56.1,127.32 L56.3,127.46 L56.5,127.41 L56.7,128.55 L56.9,127.37 L57.1,126.05 L57.3,127.31 L57.5,125.65 L57.7,125.23 L57.9,126.32 L58.1,125.11 L58.3,125.33 L58.5,124.64 L58.7,124.72 L58.9,123.41 L59.1,125.02 L59.3,124.87 L59.5,123.31 L59.7,124.06 L59.9,123.11 L60.1,122.65 L60.3,122.18 L60.5,119.45 L60.7,120.20 L60.9,118.68 L61.1,118.49 L61.3,116.78 L61.5,117.43 L61.7,115.96 L61.9,113.48 L62.1,112.64 L62.3,111.24 L62.5,110.07 L62.7,109.27 L62.9,106.90 L63.1,105.74 L63.3,106.83 L63.5,105.75 L63.7,104.72 L63.9,104.26 L64.1,103.80 L64.3,105.09 L64.5,104.69 L64.7,106.87 L64.9,108.04 L65.1,108.31 L65.3,110.68 L65.5,111.68 L65.7,112.43 L65.9,112.95 L66.1,114.19 L66.3,115.18 L66.5,115.50 L66.7,118.14 L66.9,119.72 L67.1,118.99 L67.3,121.19 L67.5,121.55 L67.7,122.41 L67.9,123.35 L68.1,124.19 L68.3,123.59 L68.5,125.10 L68.7,124.65 L68.9,123.44 L69.1,126.95 L69.3,125.68 L69.5,125.71 L69.7,126.92 L69.9,126.43 L70.1,125.87 L70.3,126.51 L70.5,126.55 L70.7,126.28 L70.9,124.86 L71.1,126.67 L71.3,125.97 L71.5,125.89 L71.7,126.83 L71.9,128.35 L72.1,126.08 L72.3,127.26 L72.5,125.89 L72.7,125.78 L72.9,126.69 L73.1,127.55 L73.3,127.03 L73.5,126.98 L73.7,127.54 L73.9,126.81 L74.1,125.90 L74.3,125.42 L74.5,125.67 L74.7,125.75 L74.9,124.95 L75.1,124.60 L75.3,123.94 L75.5,123.39 L75.7,122.78 L75.9,122.65 L76.1,124.23 L76.3,123.40 L76.5,123.41 L76.7,122.29 L76.9,122.01 L77.1,122.56 L77.3,121.58 L77.5,122.72 L77.7,122.25 L77.9,123.08 L78.1,122.48 L78.3,124.81 L78.5,123.99 L78.7,124.74 L78.9,124.17 L79.1,124.44 L79.3,125.72 L79.5,124.32 L79.7,126.70 L79.9,125.67 L80.1,127.07 L80.3,126.22 L80.5,127.01 L80.7,127.33 L80.9,128.06 L81.1,126.83 L81.3,127.95 L81.5,127.94 L81.7,128.41 L81.9,127.31 L82.1,128.17 L82.3,127.73 L82.5,128.03 L82.7,129.22 L82.9,129.27 L83.1,127.80 L83.3,128.45 L83.5,128.48 L83.7,127.84 L83.9,128.21 L84.1,127.72 L84.3,128.87 L84.5,127.88 L84.7,129.59 L84.9,127.18 L85.1,128.93 L85.3,128.90 L85.5,127.96 L85.7,127.16 L85.9,128.57 L86.1,127.52 L86.3,129.07 L86.5,128.36 L86.7,128.26 L86.9,128.41 L87.1,128.87 L87.3,128.39 L87.5,128.75 L87.7,128.62 L87.9,127.99 L88.1,129.11 L88.3,129.54 L88.5,129.28 L88.7,128.57 L88.9,128.94 L89.1,127.77 L89.3,128.05 L89.5,128.02 L89.7,128.27 L89.9,129.35 L90.1,128.23 L90.3,128.37 L90.5,127.73 L90.7,128.24 L90.9,127.60 L91.1,129.49 L91.3,128.65 L91.5,129.29 L91.7,129.61 L91.9,129.03 L92.1,128.89 L92.3,128.73 L92.5,128.37 L92.7,127.13 L92.9,128.69 L93.1,128.02 L93.3,127.80 L93.5,128.10 L93.7,128.48 L93.9,128.94 L94.1,127.68 L94.3,127.64 L94.5,129.33 L94.7,128.89 L94.9,129.06 L95.1,128.43 L95.3,127.59 L95.5,129.55 L95.7,129.48 L95.9,128.29 L96.1,129.06 L96.3,129.43 L96.5,130.47 L96.7,129.63 L96.9,129.21 L97.1,128.63 L97.3,128.41 L97.5,128.69 L97.7,128.34 L97.9,129.28 L98.1,128.96 L98.3,128.78 L98.5,128.22 L98.7,129.06 L98.9,128.68 L99.1,129.09 L99.3,128.31 L99.5,129.39 L99.7,128.86 L99.9,130.21 L100.1,128.42 L100.3,130.37 L100.5,131.04 L100.7,129.05 L100.9,130.41 L101.1,129.72 L101.3,128.01 L101.5,128.28 L101.7,129.35 L101.9,128.90 L102.1,129.37 L102.3,129.09 L102.5,129.86 L102.7,128.70 L102.9,128.16 L103.1,128.55 L103.3,128.84 L103.5,128.21 L103.7,128.73 L103.9,128.66 L104.1,128.59 L104.3,128.82 L104.5,128.62 L104.7,129.51 L104.9,128.92 L105.1,129.31 L105.3,127.64 L105.5,128.60 L105.7,128.19 L105.9,127.21 L106.1,129.80 L106.3,127.51 L106.5,128.98 L106.7,129.02 L106.9,129.22 L107.1,128.09 L107.3,126.58 L107.5,128.86 L107.7,128.40 L107.9,128.81 L108.1,128.28 L108.3,129.41 L108.5,128.78 L108.7,128.26 L108.9,130.18 L109.1,128.03 L109.3,126.90 L109.5,128.44 L109.7,128.68 L109.9,128.71 L110.1,127.96 L110.3,128.34 L110.5,127.75 L110.7,128.11 L110.9,128.89 L111.1,128.01 L111.3,128.77 L111.5,128.22 L111.7,128.33 L111.9,128.00 L112.1,129.04 L112.3,128.35 L112.5,127.71 L112.7,128.29 L112.9,129.02 L113.1,128.30 L113.3,127.42 L113.5,127.60 L113.7,127.15 L113.9,128.69 L114.1,127.82 L114.3,128.23 L114.5,128.29 L114.7,127.67 L114.9,128.63 L115.1,127.78 L115.3,128.07 L115.5,126.48 L115.7,127.74 L115.9,127.59 L116.1,127.42 L116.3,128.10 L116.5,127.10 L116.7,127.81 L116.9,126.32 L117.1,128.06 L117.3,127.80 L117.5,129.34 L117.7,128.13 L117.9,128.37 L118.1,126.03 L118.3,127.78 L118.5,127.34 L118.7,129.05 L118.9,128.72 L119.1,128.08 L119.3,128.01 L119.5,127.96 L119.7,127.93 L119.9,128.33 L120.1,128.27 L120.3,127.78 L120.5,127.38 L120.7,129.04 L120.9,127.70 L121.1,127.46 L121.3,129.47 L121.5,127.96 L121.7,127.63 L121.9,126.84 L122.1,127.00 L122.3,128.74 L122.5,127.63 L122.7,128.61 L122.9,127.15 L123.1,128.35 L123.3,127.93 L123.5,127.55 L123.7,126.60 L123.9,128.63 L124.1,127.87 L124.3,127.79 L124.5,128.38 L124.7,127.18 L124.9,128.70 L125.1,128.33 L125.3,128.05 L125.5,127.98 L125.7,127.14 L125.9,127.58 L126.1,128.04 L126.3,127.37 L126.5,128.55 L126.7,128.28 L126.9,128.71 L127.1,126.80 L127.3,128.89 L127.5,127.58 L127.7,127.54 L127.9,127.90 L128.1,129.11 L128.3,128.55 L128.5,128.61 L128.7,129.12 L128.9,129.19 L129.1,129.24 L129.3,129.09 L129.5,128.69 L129.7,128.73 L129.9,127.39 L130.1,128.19 L130.3,126.86 L130.5,128.25 L130.7,128.36 L130.9,127.78 L131.1,127.96 L131.3,128.99 L131.5,128.11 L131.7,128.35 L131.9,129.53 L132.1,128.59 L132.3,128.93 L132.5,128.65 L132.7,128.81 L132.9,129.26 L133.1,128.37 L133.3,128.86 L133.5,128.01 L133.7,127.99 L133.9,128.66 L134.1,127.98 L134.3,126.78 L134.5,128.39 L134.7,129.45 L134.9,127.97 L135.1,128.94 L135.3,128.36 L135.5,127.51 L135.7,128.34 L135.9,127.07 L136.1,129.25 L136.3,128.26 L136.5,128.86 L136.7,128.54 L136.9,127.65 L137.1,128.14 L137.3,129.06 L137.5,128.76 L137.7,127.82 L137.9,127.51 L138.1,127.98 L138.3,127.18 L138.5,128.39 L138.7,127.16 L138.9,127.82 L139.1,128.91 L139.3,128.36 L139.5,127.93 L139.7,128.58 L139.9,128.32 L140.1,128.77 L140.3,129.30 L140.5,128.51 L140.7,127.63 L140.9,129.14 L141.1,128.36 L141.3,129.70 L141.5,129.53 L141.7,128.88 L141.9,129.19 L142.1,127.97 L142.3,127.91 L142.5,128.84 L142.7,129.32 L142.9,130.04 L143.1,128.71 L143.3,128.59 L143.5,128.68 L143.7,128.60 L143.9,129.09 L144.1,128.01 L144.3,129.35 L144.5,127.97 L144.7,130.21 L144.9,128.61 L145.1,128.78 L145.3,127.67 L145.5,128.91 L145.7,127.44 L145.9,129.24 L146.1,128.33 L146.3,128.93 L146.5,129.17 L146.7,129.63 L146.9,129.94 L147.1,129.77 L147.3,129.54 L147.5,128.75 L147.7,128.40 L147.9,129.62 L148.1,129.39 L148.3,128.71 L148.5,129.08 L148.7,129.72 L148.9,129.59 L149.1,128.59 L149.3,128.16 L149.5,127.80 L149.7,128.71 L149.9,128.83 L150.1,128.25 L150.3,129.91 L150.5,130.49 L150.7,128.80 L150.9,129.79 L151.1,129.29 L151.3,129.81 L151.5,129.53 L151.7,129.42 L151.9,130.12 L152.1,130.10 L152.3,129.38 L152.5,129.95 L152.7,129.27 L152.9,129.62 L153.1,130.13 L153.3,129.98 L153.5,128.73 L153.7,130.21 L153.9,129.20 L154.1,130.04 L154.3,130.37 L154.5,128.92 L154.7,129.11 L154.9,130.37 L155.1,129.92 L155.3,128.40 L155.5,130.35 L155.7,129.37 L155.9,129.01 L156.1,129.84 L156.3,129.30 L156.5,129.73 L156.7,129.84 L156.9,131.10 L157.1,130.23 L157.3,129.80 L157.5,129.77 L157.7,130.00 L157.9,130.16 L158.1,129.51 L158.3,130.24 L158.5,129.45 L158.7,129.46 L158.9,129.78 L159.1,130.49 L159.3,130.27 L159.5,127.79 L159.7,130.37 L159.9,129.62 L160.1,129.57 L160.3,130.40 L160.5,129.04 L160.7,128.87 L160.9,128.24 L161.1,128.72 L161.3,129.97 L161.5,128.85 L161.7,128.76 L161.9,129.68 L162.1,128.77 L162.3,128.99 L162.5,129.00 L162.7,129.83 L162.9,129.12 L163.1,129.21 L163.3,129.32 L163.5,128.21 L163.7,129.08 L163.9,128.03 L164.1,128.44 L164.3,128.77 L164.5,129.11 L164.7,128.79 L164.9,129.43 L165.1,128.79 L165.3,128.97 L165.5,128.21 L165.7,128.00 L165.9,129.38 L166.1,127.22 L166.3,128.90 L166.5,127.55 L166.7,128.30 L166.9,126.75 L167.1,127.54 L167.3,127.15 L167.5,125.37 L167.7,125.98 L167.9,126.48 L168.1,126.34 L168.3,125.49 L168.5,124.58 L168.7,124.54 L168.9,123.42 L169.1,123.47 L169.3,124.10 L169.5,123.87 L169.7,124.38 L169.9,124.40 L170.1,124.97 L170.3,124.91 L170.5,125.68 L170.7,127.13 L170.9,125.36 L171.1,126.24 L171.3,126.13 L171.5,126.93 L171.7,127.08 L171.9,126.53 L172.1,127.23 L172.3,127.34 L172.5,127.23 L172.7,127.54 L172.9,128.03 L173.1,127.38 L173.3,126.76 L173.5,126.86 L173.7,127.64 L173.9,125.69 L174.1,126.53 L174.3,125.23 L174.5,124.23 L174.7,124.32 L174.9,124.51 L175.1,123.76 L175.3,123.09 L175.5,122.68 L175.7,122.26 L175.9,122.08 L176.1,122.42 L176.3,121.30 L176.5,123.31 L176.7,123.55 L176.9,123.90 L177.1,124.68 L177.3,124.11 L177.5,124.93 L177.7,123.85 L177.9,125.83 L178.1,125.85 L178.3,126.77 L178.5,127.31 L178.7,126.95 L178.9,126.58 L179.1,127.69 L179.3,128.12 L179.5,128.26 L179.7,127.60 L179.9,127.38 L180.1,127.98 L180.3,127.49 L180.5,126.94 L180.7,128.42 L180.9,128.52 L181.1,128.62 L181.3,127.81 L181.5,128.23 L181.7,127.58 L181.9,127.48 L182.1,128.69 L182.3,127.38 L182.5,128.33 L182.7,129.95 L182.9,129.46 L183.1,129.20 L183.3,129.18 L183.5,128.71 L183.7,128.61 L183.9,130.25 L184.1,128.98 L184.3,128.78 L184.5,129.59 L184.7,129.10 L184.9,129.87 L185.1,128.76 L185.3,128.66 L185.5,128.86 L185.7,129.93 L185.9,129.44 L186.1,128.93 L186.3,128.90 L186.5,128.95 L186.7,128.18 L186.9,129.10 L187.1,128.59 L187.3,128.92 L187.5,128.76 L187.7,129.00 L187.9,128.49 L188.1,129.26 L188.3,128.97 L188.5,128.34 L188.7,129.16 L188.9,128.63 L189.1,129.09 L189.3,129.36 L189.5,128.65 L189.7,128.91 L189.9,128.97 L190.1,128.84 L190.3,130.02 L190.5,129.06 L190.7,128.18 L190.9,128.90 L191.1,128.50 L191.3,130.12 L191.5,128.34 L191.7,128.03 L191.9,129.10 L192.1,128.44 L192.3,128.54 L192.5,128.58 L192.7,128.30 L192.9,128.41 L193.1,127.31 L193.3,128.54 L193.5,128.92 L193.7,129.67 L193.9,128.69 L194.1,129.24 L194.3,128.39 L194.5,129.58 L194.7,130.09 L194.9,129.07 L195.1,128.56 L195.3,128.84 L195.5,129.68 L195.7,128.10 L195.9,129.57 L196.1,128.28 L196.3,128.40 L196.5,129.10 L196.7,129.14 L196.9,129.36 L197.1,129.57 L197.3,128.17 L197.5,128.78 L197.7,129.16 L197.9,128.83 L198.1,129.34 L198.3,128.76 L198.5,128.65 L198.7,127.41 L198.9,127.55 L199.1,129.15 L199.3,128.14 L199.5,129.01 L199.7,129.34 L199.9,128.95 L200.1,129.59 L200.3,128.67 L200.5,129.56 L200.7,129.11 L200.9,128.29 L201.1,128.03 L201.3,128.96 L201.5,130.03 L201.7,129.81 L201.9,129.42 L202.1,129.64 L202.3,129.66 L202.5,128.99 L202.7,129.96 L202.9,129.28 L203.1,128.97 L203.3,131.39 L203.5,129.49 L203.7,129.03 L203.9,129.57 L204.1,128.48 L204.3,128.45 L204.5,130.14 L204.7,129.34 L204.9,128.38 L205.1,128.09 L205.3,128.89 L205.5,128.30 L205.7,129.55 L205.9,127.64 L206.1,129.34 L206.3,128.02 L206.5,127.98 L206.7,128.69 L206.9,127.93 L207.1,128.38 L207.3,128.42 L207.5,127.45 L207.7,128.21 L207.9,129.15 L208.1,127.80 L208.3,128.16 L208.5,128.49 L208.7,129.52 L208.9,129.55 L209.1,129.85 L209.3,128.50 L209.5,129.39 L209.7,129.00 L209.9,128.17 L210.1,129.13 L210.3,128.90 L210.5,128.47 L210.7,128.25 L210.9,127.86 L211.1,128.88 L211.3,128.90 L211.5,128.39 L211.7,128.47 L211.9,128.42 L212.1,129.26 L212.3,128.99 L212.5,127.93 L212.7,129.07 L212.9,129.39 L213.1,128.76 L213.3,128.83 L213.5,128.71 L213.7,129.42 L213.9,128.93 L214.1,129.12 L214.3,129.10 L214.5,129.95 L214.7,128.14 L214.9,130.23 L215.1,128.16 L215.3,128.59 L215.5,128.18 L215.7,128.67 L215.9,128.77 L216.1,129.74 L216.3,128.95 L216.5,127.86 L216.7,128.28 L216.9,128.07 L217.1,127.70 L217.3,128.49 L217.5,128.25 L217.7,127.82 L217.9,127.64 L218.1,128.48 L218.3,127.99 L218.5,128.74 L218.7,128.54 L218.9,127.28 L219.1,126.75 L219.3,128.16 L219.5,127.86 L219.7,127.69 L219.9,127.94 L220.1,129.04 L220.3,128.02 L220.5,129.29 L220.7,128.67 L220.9,127.32 L221.1,128.48 L221.3,129.11 L221.5,127.29 L221.7,127.63 L221.9,128.33 L222.1,128.15 L222.3,129.18 L222.5,127.67 L222.7,129.02 L222.9,127.26 L223.1,127.64 L223.3,128.34 L223.5,128.28 L223.7,128.01 L223.9,128.72 L224.1,128.82 L224.3,128.89 L224.5,127.76 L224.7,128.36 L224.9,127.77 L225.1,128.77 L225.3,126.68 L225.5,127.60 L225.7,127.85 L225.9,127.79 L226.1,129.00 L226.3,127.35 L226.5,127.78 L226.7,127.66 L226.9,128.44 L227.1,128.10 L227.3,129.16 L227.5,129.24 L227.7,127.57 L227.9,127.65 L228.1,129.38 L228.3,129.30 L228.5,128.33 L228.7,129.16 L228.9,128.52 L229.1,129.55 L229.3,128.43 L229.5,128.93 L229.7,129.47 L229.9,129.33 L230.1,129.81 L230.3,129.58 L230.5,128.49 L230.7,129.53 L230.9,128.71 L231.1,130.02 L231.3,129.98 L231.5,129.79 L231.7,130.58 L231.9,129.81 L232.1,130.27 L232.3,129.96 L232.5,129.84 L232.7,129.92 L232.9,129.50 L233.1,130.39 L233.3,128.84 L233.5,128.66 L233.7,129.07 L233.9,130.40 L234.1,129.39 L234.3,129.28 L234.5,129.17 L234.7,129.80 L234.9,129.56 L235.1,130.18 L235.3,129.39 L235.5,130.02 L235.7,129.00 L235.9,129.93 L236.1,131.15 L236.3,129.39 L236.5,129.35 L236.7,129.86 L236.9,128.70 L237.1,129.03 L237.3,128.90 L237.5,129.37 L237.7,128.62 L237.9,130.04 L238.1,129.31 L238.3,129.35 L238.5,129.32 L238.7,129.44 L238.9,128.11 L239.1,130.18 L239.3,128.99 L239.5,129.89 L239.7,129.44 L239.9,129.55 L240.1,129.92 L240.3,130.58 L240.5,129.65 L240.7,129.30 L240.9,129.98 L241.1,128.51 L241.3,129.45 L241.5,129.33 L241.7,129.67 L241.9,128.96 L242.1,129.97 L242.3,129.33 L242.5,129.58 L242.7,129.61 L242.9,129.34 L243.1,129.08 L243.3,130.15 L243.5,129.78 L243.7,130.14 L243.9,129.15 L244.1,129.24 L244.3,129.10 L244.5,128.70 L244.7,128.85 L244.9,128.09 L245.1,128.38 L245.3,128.53 L245.5,128.45 L245.7,129.17 L245.9,129.26 L246.1,129.38 L246.3,128.94 L246.5,129.67 L246.7,129.57 L246.9,129.46 L247.1,129.18 L247.3,130.35 L247.5,128.93 L247.7,128.66 L247.9,128.79 L248.1,130.06 L248.3,129.57 L248.5,129.18 L248.7,128.24 L248.9,129.35 L249.1,128.86 L249.3,128.33 L249.5,130.05 L249.7,129.45 L249.9,130.08 L250.1,129.46 L250.3,129.70 L250.5,128.94 L250.7,129.62 L250.9,129.14 L251.1,129.79 L251.3,129.49 L251.5,128.76 L251.7,129.37 L251.9,129.41 L252.1,128.96 L252.3,129.21 L252.5,129.67 L252.7,129.81 L252.9,129.34 L253.1,127.98 L253.3,129.51 L253.5,130.19 L253.7,129.22 L253.9,128.88 L254.1,129.38 L254.3,129.39 L254.5,129.68 L254.7,128.88 L254.9,130.11 L255.1,129.79 L255.3,128.86 L255.5,129.96 L255.7,129.48 L255.9,129.82 L256.1,129.63 L256.3,129.55 L256.5,129.70 L256.7,129.35 L256.9,129.24 L257.1,129.54 L257.3,129.44 L257.5,130.03 L257.7,129.91 L257.9,128.98 L258.1,130.10 L258.3,129.68 L258.5,130.13 L258.7,130.02 L258.9,129.78 L259.1,129.90 L259.3,128.81 L259.5,130.38 L259.7,130.50 L259.9,129.77 L260.1,129.22 L260.3,129.72 L260.5,129.07 L260.7,130.22 L260.9,128.99 L261.1,128.66 L261.3,128.85 L261.5,129.01 L261.7,129.84 L261.9,129.48 L262.1,129.77 L262.3,129.53 L262.5,130.27 L262.7,129.60 L262.9,129.71 L263.1,130.35 L263.3,129.91 L263.5,129.44 L263.7,129.53 L263.9,130.37 L264.1,130.03 L264.3,129.36 L264.5,130.28 L264.7,128.89 L264.9,128.56 L265.1,128.97 L265.3,128.43 L265.5,129.27 L265.7,129.43 L265.9,129.33 L266.1,129.19 L266.3,128.85 L266.5,129.87 L266.7,128.32 L266.9,129.68 L267.1,129.35 L267.3,129.13 L267.5,129.36 L267.7,128.45 L267.9,129.73 L268.1,129.57 L268.3,129.98 L268.5,128.44 L268.7,129.51 L268.9,129.32 L269.1,128.30 L269.3,129.28 L269.5,129.55 L269.7,129.15 L269.9,129.70 L270.1,129.88 L270.3,129.32 L270.5,129.42 L270.7,129.93 L270.9,129.07 L271.1,129.82 L271.3,130.09 L271.5,129.48 L271.7,129.70 L271.9,129.57 L272.1,129.81 L272.3,128.79 L272.5,128.66 L272.7,129.10 L272.9,129.16 L273.1,129.87 L273.3,130.21 L273.5,129.58 L273.7,129.94 L273.9,129.06 L274.1,128.94 L274.3,128.46 L274.5,129.81 L274.7,129.51 L274.9,129.24 L275.1,128.62 L275.3,128.64 L275.5,129.40 L275.7,129.08 L275.9,129.53 L276.1,129.09 L276.3,128.62 L276.5,128.55 L276.7,129.08 L276.9,129.95 L277.1,130.14 L277.3,128.85 L277.5,129.34 L277.7,128.74 L277.9,129.10 L278.1,127.71 L278.3,128.78 L278.5,128.23 L278.7,129.80 L278.9,129.11 L279.1,129.49 L279.3,129.33 L279.5,128.62 L279.7,129.48 L279.9,129.70 L280.1,129.23 L280.3,129.41 L280.5,129.80 L280.7,129.57 L280.9,129.21 L281.1,128.48 L281.3,128.87 L281.5,128.86 L281.7,129.66 L281.9,129.94 L282.1,129.46 L282.3,129.92 L282.5,128.44 L282.7,129.74 L282.9,129.14 L283.1,130.19 L283.3,130.24 L283.5,130.04 L283.7,129.90 L283.9,130.20 L284.1,130.40 L284.3,129.32 L284.5,130.33 L284.7,129.57 L284.9,129.01 L285.1,129.78 L285.3,129.75 L285.5,129.46 L285.7,129.06 L285.9,129.54 L286.1,129.19 L286.3,130.47 L286.5,129.50 L286.7,129.49 L286.9,129.13 L287.1,129.74 L287.3,130.17 L287.5,129.00 L287.7,129.02 L287.9,128.19 L288.1,129.13 L288.3,130.01 L288.5,128.71 L288.7,129.00 L288.9,128.81 L289.1,129.04 L289.3,128.89 L289.5,129.10 L289.7,128.67 L289.9,129.19 L290.1,129.63 L290.3,129.58 L290.5,128.24 L290.7,129.78 L290.9,129.67 L291.1,129.87 L291.3,128.90 L291.5,129.09 L291.7,129.78 L291.9,130.30 L292.1,129.02 L292.3,129.56 L292.5,129.68 L292.7,129.39 L292.9,129.62 L293.1,129.11 L293.3,129.96 L293.5,128.78 L293.7,129.60 L293.9,129.20 L294.1,129.38 L294.3,129.06 L294.5,128.13 L294.7,130.21 L294.9,129.85 L295.1,129.75 L295.3,129.41 L295.5,129.59 L295.7,129.25 L295.9,129.46 L296.1,130.05 L296.3,129.06 L296.5,128.92 L296.7,130.18 L296.9,129.05 L297.1,129.46 L297.3,129.24 L297.5,129.46 L297.7,129.42 L297.9,129.12 L298.1,128.64 L298.3,128.70 L298.5,129.06 L298.7,129.98 L298.9,128.37 L299.1,129.16 L299.3,129.49 L299.5,128.93 L299.7,129.31 L299.9,129.17 L300.1,129.52 L300.3,129.89 L300.5,129.04 L300.7,129.33 L300.9,129.45" stroke="#00f000" stroke-width="1.25" fill="none" stroke-linejoin="round"/><path d="M51.60,129.2 L52.10,123.5 L53.10,123.5 L53.90,129.2 Z" fill="#30f030"/><path d="M40.3,156.72 L40.5,157.29 L40.7,156.69 L40.9,156.98 L41.1,155.82 L41.3,156.53 L41.5,156.23 L41.7,156.53 L41.9,155.55 L42.1,156.03 L42.3,156.92 L42.5,155.85 L42.7,156.73 L42.9,157.53 L43.1,156.58 L43.3,156.58 L43.5,157.02 L43.7,155.90 L43.9,156.22 L44.1,155.77 L44.3,155.87 L44.5,157.70 L44.7,155.84 L44.9,156.37 L45.1,156.14 L45.3,155.96 L45.5,156.18 L45.7,156.35 L45.9,156.65 L46.1,156.19 L46.3,156.64 L46.5,156.31 L46.7,156.27 L46.9,156.45 L47.1,158.04 L47.3,156.00 L47.5,156.87 L47.7,157.33 L47.9,157.22 L48.1,156.06 L48.3,156.05 L48.5,156.80 L48.7,157.50 L48.9,157.25 L49.1,156.66 L49.3,156.40 L49.5,156.34 L49.7,156.36 L49.9,155.31 L50.1,155.24 L50.3,156.22 L50.5,157.61 L50.7,156.48 L50.9,154.98 L51.1,155.53 L51.3,156.25 L51.5,155.57 L51.7,156.57 L51.9,155.89 L52.1,155.90 L52.3,155.55 L52.5,156.83 L52.7,156.70 L52.9,156.79 L53.1,156.81 L53.3,156.18 L53.5,157.18 L53.7,155.55 L53.9,156.80 L54.1,155.90 L54.3,155.76 L54.5,155.58 L54.7,156.45 L54.9,156.15 L55.1,156.73 L55.3,155.30 L55.5,156.03 L55.7,155.18 L55.9,156.18 L56.1,156.87 L56.3,155.19 L56.5,156.56 L56.7,155.10 L56.9,156.86 L57.1,155.84 L57.3,156.08 L57.5,154.85 L57.7,156.72 L57.9,155.32 L58.1,154.96 L58.3,155.82 L58.5,154.42 L58.7,154.52 L58.9,154.21 L59.1,153.68 L59.3,154.72 L59.5,154.83 L59.7,152.54 L59.9,153.80 L60.1,153.05 L60.3,151.55 L60.5,151.71 L60.7,152.09 L60.9,149.65 L61.1,148.82 L61.3,147.71 L61.5,149.03 L61.7,147.52 L61.9,145.26 L62.1,144.68 L62.3,144.25 L62.5,142.41 L62.7,142.37 L62.9,140.61 L63.1,140.36 L63.3,138.83 L63.5,137.89 L63.7,136.54 L63.9,136.62 L64.1,136.74 L64.3,134.98 L64.5,136.64 L64.7,137.34 L64.9,137.66 L65.1,137.98 L65.3,138.37 L65.5,138.86 L65.7,140.04 L65.9,141.60 L66.1,142.21 L66.3,144.04 L66.5,144.67 L66.7,145.81 L66.9,147.87 L67.1,148.08 L67.3,149.23 L67.5,148.27 L67.7,150.65 L67.9,150.48 L68.1,152.82 L68.3,151.09 L68.5,152.05 L68.7,153.53 L68.9,154.66 L69.1,152.75 L69.3,154.08 L69.5,153.99 L69.7,155.87 L69.9,156.36 L70.1,155.40 L70.3,156.12 L70.5,155.32 L70.7,155.02 L70.9,156.13 L71.1,155.60 L71.3,156.60 L71.5,155.86 L71.7,157.04 L71.9,156.20 L72.1,156.08 L72.3,156.71 L72.5,156.18 L72.7,157.07 L72.9,155.76 L73.1,155.47 L73.3,156.62 L73.5,156.20 L73.7,155.37 L73.9,154.90 L74.1,155.01 L74.3,155.17 L74.5,154.86 L74.7,153.91 L74.9,153.65 L75.1,154.37 L75.3,154.37 L75.5,154.31 L75.7,152.30 L75.9,151.64 L76.1,152.33 L76.3,151.45 L76.5,151.94 L76.7,151.80 L76.9,150.75 L77.1,150.89 L77.3,149.99 L77.5,150.17 L77.7,152.12 L77.9,153.46 L78.1,151.37 L78.3,151.90 L78.5,152.98 L78.7,154.23 L78.9,153.00 L79.1,154.67 L79.3,155.87 L79.5,153.66 L79.7,154.80 L79.9,156.37 L80.1,156.97 L80.3,155.94 L80.5,157.37 L80.7,157.59 L80.9,156.26 L81.1,157.22 L81.3,157.03 L81.5,157.33 L81.7,157.75 L81.9,156.80 L82.1,156.30 L82.3,156.73 L82.5,156.97 L82.7,157.75 L82.9,158.59 L83.1,157.55 L83.3,157.53 L83.5,157.71 L83.7,158.58 L83.9,157.86 L84.1,158.00 L84.3,157.57 L84.5,158.02 L84.7,157.73 L84.9,158.91 L85.1,158.34 L85.3,159.12 L85.5,158.51 L85.7,158.38 L85.9,157.04 L86.1,158.13 L86.3,157.65 L86.5,158.85 L86.7,158.43 L86.9,158.57 L87.1,158.22 L87.3,159.23 L87.5,156.97 L87.7,159.00 L87.9,158.13 L88.1,157.77 L88.3,157.95 L88.5,158.44 L88.7,158.67 L88.9,159.26 L89.1,158.10 L89.3,158.11 L89.5,159.37 L89.7,159.43 L89.9,158.12 L90.1,158.40 L90.3,159.02 L90.5,158.57 L90.7,159.18 L90.9,158.39 L91.1,158.52 L91.3,161.04 L91.5,159.85 L91.7,160.25 L91.9,159.41 L92.1,158.68 L92.3,159.83 L92.5,160.08 L92.7,158.99 L92.9,158.86 L93.1,159.35 L93.3,159.14 L93.5,158.24 L93.7,159.79 L93.9,159.77 L94.1,157.87 L94.3,160.43 L94.5,158.46 L94.7,158.31 L94.9,158.59 L95.1,159.15 L95.3,159.21 L95.5,158.22 L95.7,159.48 L95.9,159.67 L96.1,158.99 L96.3,157.82 L96.5,158.61 L96.7,158.90 L96.9,159.92 L97.1,159.08 L97.3,159.68 L97.5,161.39 L97.7,159.64 L97.9,159.49 L98.1,160.30 L98.3,160.51 L98.5,160.62 L98.7,159.79 L98.9,158.89 L99.1,158.49 L99.3,159.30 L99.5,159.72 L99.7,159.13 L99.9,158.96 L100.1,159.75 L100.3,159.72 L100.5,159.59 L100.7,161.22 L100.9,160.73 L101.1,159.25 L101.3,160.79 L101.5,160.03 L101.7,159.49 L101.9,159.59 L102.1,161.81 L102.3,159.80 L102.5,159.23 L102.7,159.74 L102.9,160.45 L103.1,160.10 L103.3,159.73 L103.5,159.12 L103.7,159.23 L103.9,158.68 L104.1,159.65 L104.3,160.05 L104.5,160.12 L104.7,159.80 L104.9,160.93 L105.1,160.32 L105.3,160.46 L105.5,159.34 L105.7,159.85 L105.9,159.78 L106.1,160.92 L106.3,160.30 L106.5,160.27 L106.7,160.25 L106.9,161.50 L107.1,160.12 L107.3,159.95 L107.5,160.47 L107.7,160.41 L107.9,161.28 L108.1,161.17 L108.3,160.55 L108.5,160.23 L108.7,160.32 L108.9,161.12 L109.1,160.43 L109.3,160.45 L109.5,158.38 L109.7,159.20 L109.9,159.81 L110.1,160.31 L110.3,160.33 L110.5,159.90 L110.7,158.45 L110.9,159.70 L111.1,158.92 L111.3,158.10 L111.5,158.91 L111.7,159.16 L111.9,159.56 L112.1,159.84 L112.3,159.46 L112.5,159.38 L112.7,158.97 L112.9,159.25 L113.1,158.46 L113.3,159.64 L113.5,159.26 L113.7,160.05 L113.9,159.71 L114.1,159.08 L114.3,159.12 L114.5,159.16 L114.7,159.18 L114.9,157.44 L115.1,158.48 L115.3,160.36 L115.5,159.10 L115.7,159.97 L115.9,158.68 L116.1,158.04 L116.3,158.67 L116.5,158.52 L116.7,158.13 L116.9,159.51 L117.1,159.65 L117.3,158.22 L117.5,160.06 L117.7,159.38 L117.9,157.90 L118.1,159.40 L118.3,158.95 L118.5,158.69 L118.7,157.64 L118.9,158.95 L119.1,157.91 L119.3,159.73 L119.5,157.82 L119.7,157.51 L119.9,158.78 L120.1,157.70 L120.3,159.53 L120.5,157.94 L120.7,159.07 L120.9,158.00 L121.1,158.34 L121.3,158.73 L121.5,158.18 L121.7,159.13 L121.9,158.26 L122.1,159.80 L122.3,159.44 L122.5,157.74 L122.7,160.18 L122.9,158.93 L123.1,158.27 L123.3,158.98 L123.5,158.79 L123.7,159.23 L123.9,159.31 L124.1,159.50 L124.3,157.96 L124.5,158.99 L124.7,158.44 L124.9,157.82 L125.1,158.30 L125.3,158.10 L125.5,159.02 L125.7,158.54 L125.9,159.12 L126.1,158.77 L126.3,158.93 L126.5,159.20 L126.7,158.30 L126.9,158.73 L127.1,158.88 L127.3,158.68 L127.5,158.39 L127.7,159.29 L127.9,159.41 L128.1,160.24 L128.3,159.24 L128.5,159.41 L128.7,158.52 L128.9,159.22 L129.1,160.09 L129.3,160.71 L129.5,159.70 L129.7,160.44 L129.9,160.39 L130.1,160.58 L130.3,159.55 L130.5,158.66 L130.7,159.05 L130.9,159.74 L131.1,158.60 L131.3,159.06 L131.5,158.54 L131.7,158.85 L131.9,158.29 L132.1,160.17 L132.3,158.96 L132.5,159.55 L132.7,159.85 L132.9,159.31 L133.1,158.80 L133.3,159.23 L133.5,158.98 L133.7,159.91 L133.9,159.61 L134.1,160.73 L134.3,159.65 L134.5,160.27 L134.7,159.28 L134.9,158.74 L135.1,159.60 L135.3,160.39 L135.5,160.48 L135.7,160.78 L135.9,159.83 L136.1,160.00 L136.3,160.41 L136.5,160.06 L136.7,160.59 L136.9,160.80 L137.1,160.98 L137.3,159.95 L137.5,161.42 L137.7,159.20 L137.9,160.21 L138.1,160.29 L138.3,160.66 L138.5,160.47 L138.7,161.49 L138.9,160.27 L139.1,161.25 L139.3,160.00 L139.5,160.81 L139.7,161.27 L139.9,161.81 L140.1,160.58 L140.3,159.88 L140.5,162.55 L140.7,160.93 L140.9,161.46 L141.1,161.45 L141.3,162.60 L141.5,162.25 L141.7,162.57 L141.9,162.72 L142.1,162.22 L142.3,161.85 L142.5,162.94 L142.7,162.65 L142.9,162.07 L143.1,160.57 L143.3,161.51 L143.5,162.16 L143.7,161.51 L143.9,162.32 L144.1,163.38 L144.3,161.71 L144.5,161.89 L144.7,162.30 L144.9,162.85 L145.1,160.45 L145.3,161.33 L145.5,162.47 L145.7,161.58 L145.9,160.63 L146.1,162.21 L146.3,160.87 L146.5,162.29 L146.7,162.24 L146.9,161.40 L147.1,160.97 L147.3,162.06 L147.5,161.43 L147.7,161.46 L147.9,161.29 L148.1,161.27 L148.3,161.20 L148.5,162.43 L148.7,162.58 L148.9,161.17 L149.1,160.84 L149.3,162.17 L149.5,162.55 L149.7,162.18 L149.9,162.53 L150.1,162.38 L150.3,161.97 L150.5,161.77 L150.7,161.40 L150.9,161.89 L151.1,160.82 L151.3,162.79 L151.5,161.16 L151.7,162.02 L151.9,162.10 L152.1,161.78 L152.3,161.88 L152.5,161.44 L152.7,161.65 L152.9,162.50 L153.1,162.35 L153.3,161.10 L153.5,162.01 L153.7,160.90 L153.9,161.84 L154.1,161.97 L154.3,161.21 L154.5,163.00 L154.7,161.27 L154.9,162.97 L155.1,161.15 L155.3,162.65 L155.5,160.98 L155.7,161.88 L155.9,161.38 L156.1,162.45 L156.3,161.57 L156.5,161.95 L156.7,162.30 L156.9,161.65 L157.1,161.83 L157.3,162.16 L157.5,161.40 L157.7,162.23 L157.9,160.71 L158.1,163.20 L158.3,162.72 L158.5,161.06 L158.7,161.53 L158.9,161.92 L159.1,162.53 L159.3,162.57 L159.5,162.79 L159.7,162.75 L159.9,161.26 L160.1,162.20 L160.3,162.05 L160.5,162.46 L160.7,161.99 L160.9,161.06 L161.1,161.70 L161.3,163.58 L161.5,162.01 L161.7,162.72 L161.9,161.83 L162.1,161.65 L162.3,162.06 L162.5,161.82 L162.7,162.55 L162.9,161.76 L163.1,160.78 L163.3,162.58 L163.5,162.38 L163.7,161.80 L163.9,161.99 L164.1,162.60 L164.3,162.28 L164.5,161.39 L164.7,162.92 L164.9,163.72 L165.1,162.08 L165.3,161.25 L165.5,162.50 L165.7,162.62 L165.9,161.02 L166.1,160.59 L166.3,160.57 L166.5,161.00 L166.7,160.40 L166.9,160.62 L167.1,160.59 L167.3,159.66 L167.5,160.72 L167.7,161.13 L167.9,158.77 L168.1,159.74 L168.3,159.51 L168.5,159.07 L168.7,159.57 L168.9,158.86 L169.1,159.95 L169.3,159.29 L169.5,158.92 L169.7,160.01 L169.9,159.95 L170.1,160.79 L170.3,160.12 L170.5,159.95 L170.7,161.58 L170.9,160.64 L171.1,160.82 L171.3,161.65 L171.5,160.50 L171.7,160.81 L171.9,160.40 L172.1,162.16 L172.3,160.46 L172.5,160.38 L172.7,160.36 L172.9,162.17 L173.1,161.79 L173.3,160.53 L173.5,160.37 L173.7,161.99 L173.9,159.90 L174.1,160.12 L174.3,159.40 L174.5,161.20 L174.7,159.00 L174.9,158.30 L175.1,158.96 L175.3,158.66 L175.5,158.02 L175.7,157.61 L175.9,156.85 L176.1,157.33 L176.3,159.20 L176.5,157.15 L176.7,159.28 L176.9,160.25 L177.1,159.97 L177.3,159.60 L177.5,160.52 L177.7,160.72 L177.9,159.35 L178.1,160.80 L178.3,160.06 L178.5,159.63 L178.7,161.65 L178.9,160.66 L179.1,161.51 L179.3,160.69 L179.5,162.23 L179.7,161.99 L179.9,161.52 L180.1,161.24 L180.3,161.52 L180.5,162.03 L180.7,161.55 L180.9,161.42 L181.1,162.47 L181.3,162.37 L181.5,162.84 L181.7,162.68 L181.9,161.47 L182.1,162.15 L182.3,161.50 L182.5,161.16 L182.7,162.17 L182.9,161.84 L183.1,162.23 L183.3,161.72 L183.5,162.42 L183.7,162.01 L183.9,162.22 L184.1,162.73 L184.3,163.11 L184.5,161.71 L184.7,160.80 L184.9,161.12 L185.1,162.83 L185.3,163.25 L185.5,162.83 L185.7,163.21 L185.9,162.06 L186.1,161.89 L186.3,162.99 L186.5,162.59 L186.7,162.47 L186.9,162.67 L187.1,162.14 L187.3,161.15 L187.5,162.94 L187.7,162.36 L187.9,161.73 L188.1,161.95 L188.3,162.68 L188.5,161.70 L188.7,161.43 L188.9,162.45 L189.1,162.78 L189.3,162.88 L189.5,163.03 L189.7,162.70 L189.9,162.24 L190.1,161.25 L190.3,162.36 L190.5,162.08 L190.7,163.54 L190.9,162.20 L191.1,162.78 L191.3,163.04 L191.5,161.92 L191.7,161.84 L191.9,163.25 L192.1,163.29 L192.3,161.49 L192.5,162.45 L192.7,163.26 L192.9,162.08 L193.1,162.55 L193.3,162.54 L193.5,162.22 L193.7,162.06 L193.9,160.84 L194.1,161.59 L194.3,162.06 L194.5,162.31 L194.7,163.26 L194.9,163.71 L195.1,163.00 L195.3,162.35 L195.5,161.57 L195.7,162.02 L195.9,162.84 L196.1,162.24 L196.3,162.51 L196.5,163.13 L196.7,161.89 L196.9,162.00 L197.1,163.36 L197.3,162.90 L197.5,163.14 L197.7,162.76 L197.9,161.97 L198.1,163.38 L198.3,162.46 L198.5,163.02 L198.7,163.01 L198.9,162.78 L199.1,161.81 L199.3,162.79 L199.5,161.70 L199.7,162.56 L199.9,162.14 L200.1,163.23 L200.3,161.98 L200.5,162.33 L200.7,162.27 L200.9,161.34 L201.1,162.26 L201.3,162.20 L201.5,161.82 L201.7,162.21 L201.9,162.52 L202.1,162.53 L202.3,162.67 L202.5,163.00 L202.7,163.06 L202.9,162.14 L203.1,162.48 L203.3,162.27 L203.5,161.92 L203.7,161.91 L203.9,161.57 L204.1,162.35 L204.3,162.92 L204.5,162.01 L204.7,162.04 L204.9,161.81 L205.1,161.67 L205.3,161.72 L205.5,162.49 L205.7,161.51 L205.9,163.50 L206.1,163.13 L206.3,162.71 L206.5,162.29 L206.7,163.13 L206.9,162.33 L207.1,163.68 L207.3,162.45 L207.5,162.79 L207.7,162.07 L207.9,163.22 L208.1,162.76 L208.3,162.90 L208.5,163.59 L208.7,162.25 L208.9,161.75 L209.1,161.58 L209.3,162.39 L209.5,162.73 L209.7,162.75 L209.9,163.29 L210.1,163.62 L210.3,162.57 L210.5,163.69 L210.7,162.68 L210.9,162.44 L211.1,163.44 L211.3,163.51 L211.5,163.38 L211.7,162.38 L211.9,163.76 L212.1,163.28 L212.3,162.60 L212.5,163.00 L212.7,163.13 L212.9,162.88 L213.1,162.49 L213.3,163.77 L213.5,162.64 L213.7,163.15 L213.9,162.95 L214.1,163.25 L214.3,162.11 L214.5,164.15 L214.7,163.73 L214.9,162.79 L215.1,163.37 L215.3,162.70 L215.5,163.24 L215.7,162.74 L215.9,162.00 L216.1,162.63 L216.3,162.67 L216.5,162.57 L216.7,161.77 L216.9,162.64 L217.1,163.04 L217.3,162.96 L217.5,162.32 L217.7,163.81 L217.9,162.77 L218.1,163.21 L218.3,163.01 L218.5,162.65 L218.7,163.05 L218.9,162.49 L219.1,162.32 L219.3,161.84 L219.5,163.03 L219.7,163.38 L219.9,163.10 L220.1,162.79 L220.3,162.86 L220.5,163.41 L220.7,162.58 L220.9,162.92 L221.1,163.16 L221.3,162.87 L221.5,163.08 L221.7,163.42 L221.9,162.91 L222.1,164.09 L222.3,162.73 L222.5,163.01 L222.7,162.98 L222.9,162.70 L223.1,162.20 L223.3,162.85 L223.5,162.43 L223.7,162.86 L223.9,163.11 L224.1,163.20 L224.3,162.79 L224.5,162.48 L224.7,163.83 L224.9,162.70 L225.1,163.90 L225.3,162.47 L225.5,162.96 L225.7,163.76 L225.9,162.54 L226.1,162.46 L226.3,163.69 L226.5,163.93 L226.7,163.51 L226.9,163.37 L227.1,162.81 L227.3,163.19 L227.5,163.54 L227.7,162.99 L227.9,162.36 L228.1,163.82 L228.3,162.56 L228.5,162.60 L228.7,163.03 L228.9,163.91 L229.1,162.63 L229.3,163.33 L229.5,164.27 L229.7,163.49 L229.9,163.18 L230.1,162.99 L230.3,162.60 L230.5,164.12 L230.7,162.56 L230.9,163.22 L231.1,163.64 L231.3,162.96 L231.5,163.17 L231.7,163.83 L231.9,163.29 L232.1,163.80 L232.3,163.73 L232.5,164.00 L232.7,162.55 L232.9,163.40 L233.1,163.25 L233.3,163.19 L233.5,162.44 L233.7,163.21 L233.9,164.02 L234.1,163.86 L234.3,162.97 L234.5,163.19 L234.7,163.24 L234.9,163.79 L235.1,163.01 L235.3,163.02 L235.5,162.54 L235.7,163.64 L235.9,164.26 L236.1,163.45 L236.3,163.52 L236.5,163.57 L236.7,162.63 L236.9,163.61 L237.1,163.97 L237.3,163.69 L237.5,163.11 L237.7,162.81 L237.9,162.89 L238.1,163.84 L238.3,162.96 L238.5,163.41 L238.7,163.49 L238.9,163.24 L239.1,162.98 L239.3,163.76 L239.5,163.20 L239.7,163.40 L239.9,164.14 L240.1,163.93 L240.3,162.57 L240.5,163.18 L240.7,164.18 L240.9,163.26 L241.1,164.20 L241.3,164.27 L241.5,164.34 L241.7,164.70 L241.9,163.10 L242.1,163.30 L242.3,163.42 L242.5,163.50 L242.7,164.21 L242.9,163.96 L243.1,163.35 L243.3,163.30 L243.5,162.91 L243.7,163.34 L243.9,162.87 L244.1,164.53 L244.3,163.95 L244.5,163.26 L244.7,163.34 L244.9,163.79 L245.1,163.26 L245.3,163.90 L245.5,163.35 L245.7,164.45 L245.9,163.56 L246.1,162.61 L246.3,162.82 L246.5,163.00 L246.7,164.19 L246.9,163.19 L247.1,163.87 L247.3,162.66 L247.5,163.54 L247.7,162.85 L247.9,163.11 L248.1,163.34 L248.3,162.62 L248.5,164.46 L248.7,162.69 L248.9,163.03 L249.1,164.15 L249.3,163.75 L249.5,162.00 L249.7,163.55 L249.9,163.72 L250.1,162.60 L250.3,163.25 L250.5,162.99 L250.7,162.82 L250.9,164.15 L251.1,163.91 L251.3,162.98 L251.5,162.71 L251.7,163.69 L251.9,163.35 L252.1,163.15 L252.3,163.43 L252.5,162.71 L252.7,162.78 L252.9,162.93 L253.1,164.00 L253.3,163.37 L253.5,162.85 L253.7,163.10 L253.9,163.99 L254.1,163.63 L254.3,163.20 L254.5,163.32 L254.7,163.86 L254.9,163.48 L255.1,163.48 L255.3,163.22 L255.5,162.28 L255.7,163.87 L255.9,163.42 L256.1,163.85 L256.3,164.93 L256.5,163.21 L256.7,163.61 L256.9,163.27 L257.1,162.93 L257.3,162.93 L257.5,163.28 L257.7,163.40 L257.9,164.13 L258.1,163.49 L258.3,163.17 L258.5,164.05 L258.7,163.09 L258.9,163.87 L259.1,163.59 L259.3,163.15 L259.5,163.61 L259.7,164.04 L259.9,163.69 L260.1,162.54 L260.3,162.63 L260.5,163.35 L260.7,163.33 L260.9,162.86 L261.1,163.87 L261.3,163.60 L261.5,163.94 L261.7,163.50 L261.9,164.16 L262.1,163.03 L262.3,163.21 L262.5,163.77 L262.7,163.52 L262.9,162.60 L263.1,162.94 L263.3,163.55 L263.5,163.32 L263.7,162.91 L263.9,163.01 L264.1,163.14 L264.3,163.08 L264.5,163.43 L264.7,163.43 L264.9,162.79 L265.1,164.31 L265.3,163.34 L265.5,163.11 L265.7,164.21 L265.9,163.27 L266.1,162.72 L266.3,162.68 L266.5,163.06 L266.7,163.01 L266.9,162.53 L267.1,163.15 L267.3,162.97 L267.5,163.93 L267.7,163.56 L267.9,163.00 L268.1,163.90 L268.3,163.32 L268.5,162.47 L268.7,163.47 L268.9,164.25 L269.1,163.58 L269.3,163.27 L269.5,163.67 L269.7,163.40 L269.9,164.05 L270.1,163.92 L270.3,163.70 L270.5,164.28 L270.7,164.59 L270.9,163.93 L271.1,164.37 L271.3,164.12 L271.5,163.66 L271.7,163.55 L271.9,164.11 L272.1,163.56 L272.3,163.74 L272.5,162.50 L272.7,163.65 L272.9,162.38 L273.1,164.22 L273.3,163.25 L273.5,163.52 L273.7,163.00 L273.9,163.33 L274.1,162.89 L274.3,163.04 L274.5,163.59 L274.7,163.46 L274.9,163.60 L275.1,163.80 L275.3,164.73 L275.5,164.54 L275.7,164.97 L275.9,164.01 L276.1,163.73 L276.3,164.20 L276.5,164.46 L276.7,163.35 L276.9,164.25 L277.1,163.70 L277.3,163.99 L277.5,163.94 L277.7,163.68 L277.9,163.46 L278.1,163.57 L278.3,164.06 L278.5,162.71 L278.7,163.48 L278.9,163.26 L279.1,163.30 L279.3,163.49 L279.5,163.61 L279.7,163.40 L279.9,164.09 L280.1,163.43 L280.3,164.61 L280.5,162.60 L280.7,164.19 L280.9,163.25 L281.1,162.84 L281.3,163.18 L281.5,163.40 L281.7,163.88 L281.9,163.76 L282.1,164.43 L282.3,163.75 L282.5,163.54 L282.7,163.56 L282.9,163.91 L283.1,163.63 L283.3,164.34 L283.5,163.44 L283.7,163.63 L283.9,163.63 L284.1,163.46 L284.3,163.53 L284.5,163.22 L284.7,162.52 L284.9,162.84 L285.1,163.14 L285.3,162.49 L285.5,163.45 L285.7,164.14 L285.9,164.07 L286.1,163.23 L286.3,163.23 L286.5,163.67 L286.7,163.53 L286.9,164.09 L287.1,163.93 L287.3,163.99 L287.5,163.81 L287.7,164.36 L287.9,163.90 L288.1,164.94 L288.3,164.09 L288.5,163.79 L288.7,163.62 L288.9,163.40 L289.1,163.18 L289.3,163.76 L289.5,164.01 L289.7,164.55 L289.9,163.99 L290.1,164.31 L290.3,163.86 L290.5,163.56 L290.7,163.99 L290.9,164.16 L291.1,163.80 L291.3,163.67 L291.5,163.70 L291.7,162.79 L291.9,163.87 L292.1,163.11 L292.3,164.83 L292.5,163.58 L292.7,163.75 L292.9,163.76 L293.1,162.74 L293.3,164.34 L293.5,163.39 L293.7,164.12 L293.9,164.22 L294.1,164.08 L294.3,162.41 L294.5,163.21 L294.7,163.47 L294.9,163.12 L295.1,163.63 L295.3,164.46 L295.5,164.29 L295.7,163.48 L295.9,163.24 L296.1,164.19 L296.3,164.27 L296.5,163.75 L296.7,163.47 L296.9,164.56 L297.1,164.64 L297.3,164.34 L297.5,164.19 L297.7,163.67 L297.9,164.03 L298.1,163.37 L298.3,164.54 L298.5,163.31 L298.7,163.42 L298.9,163.61 L299.1,163.71 L299.3,164.35 L299.5,164.20 L299.7,163.47 L299.9,163.97 L300.1,163.95 L300.3,164.63 L300.5,163.19 L300.7,163.69 L300.9,163.41" stroke="#ff0000" stroke-width="1.2" fill="none" stroke-linejoin="round"/><path d="M49.90,155.6 L50.40,146.0 L51.60,146.0 L52.40,155.6 Z" fill="#ff3a3a"/><path d="M69.40,156.7 L69.90,147.4 L70.90,147.4 L71.70,156.7 Z" fill="#ff4040"/><path d="M40.3,193.30 L40.5,190.33 L40.7,190.40 L40.9,190.88 L41.1,190.69 L41.3,190.90 L41.5,190.67 L41.7,191.29 L41.9,192.06 L42.1,192.41 L42.3,191.48 L42.5,190.76 L42.7,192.18 L42.9,192.29 L43.1,190.99 L43.3,192.23 L43.5,190.77 L43.7,191.17 L43.9,191.88 L44.1,191.61 L44.3,192.93 L44.5,191.76 L44.7,192.20 L44.9,192.99 L45.1,190.39 L45.3,192.54 L45.5,192.98 L45.7,191.56 L45.9,192.82 L46.1,190.62 L46.3,190.90 L46.5,190.51 L46.7,193.40 L46.9,191.17 L47.1,192.51 L47.3,190.49 L47.5,192.90 L47.7,190.73 L47.9,191.29 L48.1,189.54 L48.3,190.81 L48.5,193.02 L48.7,190.85 L48.9,193.75 L49.1,194.39 L49.3,191.93 L49.5,190.75 L49.7,191.74 L49.9,192.42 L50.1,190.20 L50.3,191.44 L50.5,192.20 L50.7,192.49 L50.9,190.18 L51.1,192.02 L51.3,192.19 L51.5,193.13 L51.7,192.38 L51.9,193.00 L52.1,192.36 L52.3,190.93 L52.5,194.41 L52.7,192.33 L52.9,191.79 L53.1,191.04 L53.3,192.93 L53.5,191.48 L53.7,191.88 L53.9,191.69 L54.1,191.19 L54.3,189.69 L54.5,190.62 L54.7,192.79 L54.9,191.27 L55.1,190.36 L55.3,190.10 L55.5,190.07 L55.7,190.44 L55.9,190.58 L56.1,192.14 L56.3,191.00 L56.5,192.22 L56.7,188.86 L56.9,190.09 L57.1,188.31 L57.3,187.85 L57.5,190.07 L57.7,187.93 L57.9,189.61 L58.1,188.42 L58.3,190.29 L58.5,190.05 L58.7,186.93 L58.9,188.90 L59.1,187.74 L59.3,187.86 L59.5,186.36 L59.7,187.45 L59.9,186.74 L60.1,185.15 L60.3,183.01 L60.5,181.40 L60.7,183.83 L60.9,182.16 L61.1,179.66 L61.3,179.07 L61.5,181.55 L61.7,176.85 L61.9,177.07 L62.1,176.85 L62.3,176.59 L62.5,173.27 L62.7,172.25 L62.9,169.48 L63.1,170.05 L63.3,168.66 L63.5,166.93 L63.7,166.44 L63.9,168.50 L64.1,168.21 L64.3,169.93 L64.5,167.55 L64.7,166.55 L64.9,171.42 L65.1,171.02 L65.3,173.19 L65.5,172.14 L65.7,173.63 L65.9,176.60 L66.1,175.46 L66.3,177.31 L66.5,178.53 L66.7,180.49 L66.9,181.61 L67.1,180.84 L67.3,183.32 L67.5,182.70 L67.7,183.31 L67.9,184.13 L68.1,185.35 L68.3,184.63 L68.5,185.50 L68.7,184.51 L68.9,184.09 L69.1,184.62 L69.3,186.13 L69.5,185.98 L69.7,186.04 L69.9,184.69 L70.1,185.21 L70.3,186.17 L70.5,187.06 L70.7,187.23 L70.9,186.49 L71.1,186.33 L71.3,185.82 L71.5,186.95 L71.7,188.86 L71.9,187.73 L72.1,187.41 L72.3,188.39 L72.5,190.87 L72.7,187.93 L72.9,187.44 L73.1,186.80 L73.3,186.47 L73.5,188.77 L73.7,188.49 L73.9,187.58 L74.1,188.31 L74.3,188.29 L74.5,186.78 L74.7,187.37 L74.9,187.54 L75.1,185.01 L75.3,185.84 L75.5,185.66 L75.7,183.30 L75.9,186.93 L76.1,185.20 L76.3,185.59 L76.5,181.92 L76.7,183.15 L76.9,184.24 L77.1,182.92 L77.3,185.63 L77.5,182.78 L77.7,184.28 L77.9,184.45 L78.1,183.79 L78.3,185.68 L78.5,186.49 L78.7,185.99 L78.9,187.08 L79.1,188.98 L79.3,189.39 L79.5,189.46 L79.7,190.09 L79.9,190.99 L80.1,189.84 L80.3,189.60 L80.5,190.69 L80.7,190.93 L80.9,190.38 L81.1,191.33 L81.3,191.57 L81.5,192.42 L81.7,190.55 L81.9,192.66 L82.1,191.33 L82.3,190.24 L82.5,192.79 L82.7,192.34 L82.9,192.00 L83.1,190.71 L83.3,192.62 L83.5,190.86 L83.7,190.97 L83.9,191.92 L84.1,193.01 L84.3,192.12 L84.5,192.16 L84.7,191.34 L84.9,193.30 L85.1,192.11 L85.3,193.00 L85.5,195.12 L85.7,192.53 L85.9,191.41 L86.1,191.04 L86.3,191.50 L86.5,191.46 L86.7,192.76 L86.9,193.82 L87.1,192.57 L87.3,192.25 L87.5,193.20 L87.7,191.67 L87.9,192.16 L88.1,193.28 L88.3,193.74 L88.5,192.20 L88.7,192.30 L88.9,192.16 L89.1,192.84 L89.3,194.11 L89.5,192.86 L89.7,191.62 L89.9,193.69 L90.1,193.68 L90.3,193.84 L90.5,193.47 L90.7,192.43 L90.9,191.80 L91.1,193.31 L91.3,192.39 L91.5,192.82 L91.7,193.95 L91.9,190.99 L92.1,191.27 L92.3,191.43 L92.5,192.05 L92.7,192.68 L92.9,193.21 L93.1,192.16 L93.3,194.01 L93.5,192.66 L93.7,193.66 L93.9,194.50 L94.1,194.09 L94.3,192.80 L94.5,192.99 L94.7,193.56 L94.9,193.88 L95.1,191.95 L95.3,192.03 L95.5,192.47 L95.7,193.99 L95.9,193.20 L96.1,193.01 L96.3,191.80 L96.5,191.91 L96.7,193.58 L96.9,192.28 L97.1,194.13 L97.3,192.40 L97.5,193.47 L97.7,193.97 L97.9,193.77 L98.1,193.24 L98.3,195.40 L98.5,193.37 L98.7,193.78 L98.9,192.98 L99.1,194.17 L99.3,194.35 L99.5,194.36 L99.7,193.46 L99.9,194.14 L100.1,192.21 L100.3,192.70 L100.5,193.67 L100.7,190.86 L100.9,191.57 L101.1,193.71 L101.3,193.16 L101.5,192.76 L101.7,192.95 L101.9,194.54 L102.1,193.59 L102.3,192.72 L102.5,191.58 L102.7,193.01 L102.9,191.84 L103.1,192.79 L103.3,192.44 L103.5,194.23 L103.7,192.43 L103.9,192.99 L104.1,194.36 L104.3,190.91 L104.5,192.40 L104.7,191.25 L104.9,194.30 L105.1,193.21 L105.3,192.80 L105.5,193.06 L105.7,193.67 L105.9,193.38 L106.1,193.09 L106.3,193.77 L106.5,193.18 L106.7,194.63 L106.9,191.65 L107.1,192.22 L107.3,193.18 L107.5,193.31 L107.7,192.08 L107.9,193.62 L108.1,193.34 L108.3,194.00 L108.5,192.28 L108.7,193.65 L108.9,192.48 L109.1,192.80 L109.3,193.26 L109.5,192.25 L109.7,192.50 L109.9,194.49 L110.1,192.14 L110.3,193.65 L110.5,194.31 L110.7,194.45 L110.9,192.96 L111.1,192.09 L111.3,194.07 L111.5,192.35 L111.7,192.95 L111.9,192.22 L112.1,191.50 L112.3,192.07 L112.5,192.41 L112.7,190.87 L112.9,193.81 L113.1,192.22 L113.3,193.96 L113.5,193.49 L113.7,191.85 L113.9,192.30 L114.1,191.89 L114.3,192.20 L114.5,192.32 L114.7,192.50 L114.9,192.54 L115.1,192.40 L115.3,191.64 L115.5,190.69 L115.7,192.30 L115.9,191.92 L116.1,192.58 L116.3,191.39 L116.5,192.27 L116.7,191.19 L116.9,192.43 L117.1,191.76 L117.3,192.48 L117.5,194.44 L117.7,192.76 L117.9,191.94 L118.1,192.15 L118.3,192.01 L118.5,191.95 L118.7,192.08 L118.9,191.98 L119.1,191.92 L119.3,192.80 L119.5,192.67 L119.7,193.35 L119.9,192.15 L120.1,192.17 L120.3,193.86 L120.5,190.48 L120.7,192.07 L120.9,192.29 L121.1,192.52 L121.3,191.33 L121.5,191.60 L121.7,190.63 L121.9,191.53 L122.1,190.35 L122.3,192.72 L122.5,191.94 L122.7,191.21 L122.9,193.50 L123.1,192.22 L123.3,191.33 L123.5,192.63 L123.7,191.72 L123.9,190.46 L124.1,192.17 L124.3,193.41 L124.5,190.61 L124.7,191.74 L124.9,192.75 L125.1,192.49 L125.3,193.11 L125.5,191.85 L125.7,193.16 L125.9,191.86 L126.1,191.82 L126.3,192.30 L126.5,191.64 L126.7,191.63 L126.9,191.57 L127.1,191.33 L127.3,191.45 L127.5,190.84 L127.7,192.53 L127.9,192.29 L128.1,190.26 L128.3,191.58 L128.5,192.18 L128.7,191.35 L128.9,192.72 L129.1,191.83 L129.3,192.28 L129.5,191.46 L129.7,192.45 L129.9,192.45 L130.1,194.32 L130.3,193.75 L130.5,192.54 L130.7,192.45 L130.9,192.53 L131.1,192.67 L131.3,190.56 L131.5,192.47 L131.7,193.10 L131.9,192.63 L132.1,191.55 L132.3,191.37 L132.5,191.18 L132.7,194.33 L132.9,193.57 L133.1,194.10 L133.3,192.65 L133.5,192.25 L133.7,191.52 L133.9,193.14 L134.1,191.68 L134.3,192.30 L134.5,194.08 L134.7,194.44 L134.9,192.78 L135.1,193.80 L135.3,193.20 L135.5,193.57 L135.7,191.86 L135.9,193.24 L136.1,193.32 L136.3,193.59 L136.5,193.70 L136.7,193.65 L136.9,194.11 L137.1,192.85 L137.3,193.81 L137.5,192.78 L137.7,193.65 L137.9,193.19 L138.1,192.92 L138.3,193.12 L138.5,193.13 L138.7,194.39 L138.9,193.09 L139.1,193.97 L139.3,194.09 L139.5,195.57 L139.7,194.46 L139.9,192.73 L140.1,192.57 L140.3,193.69 L140.5,194.00 L140.7,192.93 L140.9,194.39 L141.1,191.99 L141.3,191.86 L141.5,192.98 L141.7,194.15 L141.9,194.42 L142.1,193.72 L142.3,194.79 L142.5,193.81 L142.7,193.24 L142.9,194.83 L143.1,193.81 L143.3,192.92 L143.5,193.86 L143.7,192.68 L143.9,194.64 L144.1,193.56 L144.3,192.31 L144.5,194.99 L144.7,194.27 L144.9,193.49 L145.1,194.12 L145.3,194.70 L145.5,194.13 L145.7,194.41 L145.9,195.01 L146.1,193.75 L146.3,193.98 L146.5,195.56 L146.7,193.84 L146.9,193.50 L147.1,194.12 L147.3,194.74 L147.5,193.31 L147.7,193.74 L147.9,193.51 L148.1,195.55 L148.3,195.11 L148.5,194.38 L148.7,195.05 L148.9,192.91 L149.1,193.46 L149.3,194.51 L149.5,195.44 L149.7,193.00 L149.9,194.52 L150.1,193.95 L150.3,194.03 L150.5,194.34 L150.7,193.37 L150.9,195.45 L151.1,193.62 L151.3,194.49 L151.5,193.33 L151.7,193.69 L151.9,192.90 L152.1,195.66 L152.3,196.52 L152.5,194.44 L152.7,194.61 L152.9,196.03 L153.1,193.83 L153.3,194.65 L153.5,193.77 L153.7,195.05 L153.9,194.77 L154.1,195.39 L154.3,195.20 L154.5,193.42 L154.7,193.77 L154.9,194.49 L155.1,194.90 L155.3,194.44 L155.5,195.00 L155.7,195.23 L155.9,194.22 L156.1,194.60 L156.3,194.25 L156.5,193.60 L156.7,195.57 L156.9,196.25 L157.1,194.69 L157.3,196.37 L157.5,196.26 L157.7,194.39 L157.9,194.56 L158.1,194.42 L158.3,195.70 L158.5,195.83 L158.7,194.48 L158.9,193.71 L159.1,195.02 L159.3,196.02 L159.5,195.35 L159.7,194.83 L159.9,193.43 L160.1,195.26 L160.3,194.45 L160.5,194.66 L160.7,194.77 L160.9,194.32 L161.1,193.84 L161.3,194.57 L161.5,195.17 L161.7,195.94 L161.9,194.14 L162.1,193.55 L162.3,195.89 L162.5,195.12 L162.7,193.69 L162.9,194.09 L163.1,194.46 L163.3,195.57 L163.5,194.38 L163.7,195.50 L163.9,194.45 L164.1,193.61 L164.3,194.35 L164.5,192.59 L164.7,193.47 L164.9,194.43 L165.1,193.10 L165.3,193.46 L165.5,192.67 L165.7,193.60 L165.9,191.91 L166.1,192.73 L166.3,193.36 L166.5,192.16 L166.7,193.14 L166.9,192.42 L167.1,192.23 L167.3,190.81 L167.5,190.99 L167.7,189.76 L167.9,189.59 L168.1,189.31 L168.3,189.75 L168.5,190.17 L168.7,187.56 L168.9,189.90 L169.1,186.69 L169.3,187.03 L169.5,190.31 L169.7,190.15 L169.9,189.61 L170.1,189.99 L170.3,190.22 L170.5,188.73 L170.7,191.45 L170.9,190.89 L171.1,189.95 L171.3,192.36 L171.5,192.77 L171.7,193.40 L171.9,193.16 L172.1,192.20 L172.3,193.10 L172.5,192.55 L172.7,192.65 L172.9,193.95 L173.1,192.06 L173.3,190.05 L173.5,191.44 L173.7,190.09 L173.9,190.04 L174.1,191.54 L174.3,190.19 L174.5,188.66 L174.7,188.57 L174.9,189.01 L175.1,187.70 L175.3,188.19 L175.5,185.34 L175.7,185.89 L175.9,185.41 L176.1,184.37 L176.3,185.19 L176.5,185.58 L176.7,186.29 L176.9,184.16 L177.1,186.38 L177.3,187.22 L177.5,188.40 L177.7,188.36 L177.9,188.67 L178.1,188.74 L178.3,191.14 L178.5,190.41 L178.7,192.15 L178.9,191.52 L179.1,191.97 L179.3,191.44 L179.5,191.33 L179.7,192.90 L179.9,192.73 L180.1,194.14 L180.3,192.28 L180.5,192.29 L180.7,194.36 L180.9,192.95 L181.1,192.84 L181.3,192.05 L181.5,193.15 L181.7,194.42 L181.9,194.58 L182.1,192.39 L182.3,194.30 L182.5,193.25 L182.7,193.42 L182.9,194.44 L183.1,193.82 L183.3,194.16 L183.5,194.44 L183.7,194.50 L183.9,194.26 L184.1,194.71 L184.3,193.62 L184.5,193.21 L184.7,193.24 L184.9,193.93 L185.1,193.21 L185.3,193.88 L185.5,193.62 L185.7,195.05 L185.9,193.03 L186.1,194.67 L186.3,194.26 L186.5,195.46 L186.7,192.94 L186.9,193.75 L187.1,192.77 L187.3,192.78 L187.5,193.10 L187.7,193.38 L187.9,193.66 L188.1,192.19 L188.3,191.81 L188.5,192.33 L188.7,192.97 L188.9,192.55 L189.1,192.70 L189.3,192.92 L189.5,192.49 L189.7,193.12 L189.9,194.41 L190.1,193.37 L190.3,192.61 L190.5,193.02 L190.7,193.43 L190.9,194.04 L191.1,194.39 L191.3,192.73 L191.5,193.46 L191.7,193.85 L191.9,193.54 L192.1,192.71 L192.3,193.42 L192.5,195.00 L192.7,193.20 L192.9,195.49 L193.1,194.37 L193.3,194.36 L193.5,195.75 L193.7,195.71 L193.9,193.23 L194.1,194.91 L194.3,194.74 L194.5,193.66 L194.7,193.96 L194.9,193.40 L195.1,195.52 L195.3,196.20 L195.5,193.19 L195.7,193.66 L195.9,194.12 L196.1,193.52 L196.3,195.22 L196.5,194.63 L196.7,194.34 L196.9,193.32 L197.1,193.39 L197.3,194.67 L197.5,193.27 L197.7,195.48 L197.9,194.44 L198.1,195.56 L198.3,194.96 L198.5,195.22 L198.7,195.18 L198.9,194.40 L199.1,194.37 L199.3,194.50 L199.5,194.76 L199.7,195.25 L199.9,194.40 L200.1,195.68 L200.3,194.38 L200.5,193.75 L200.7,194.04 L200.9,194.30 L201.1,196.03 L201.3,195.68 L201.5,195.33 L201.7,194.97 L201.9,195.33 L202.1,194.32 L202.3,197.13 L202.5,195.75 L202.7,196.20 L202.9,196.35 L203.1,195.49 L203.3,195.45 L203.5,194.81 L203.7,195.39 L203.9,195.23 L204.1,193.91 L204.3,195.59 L204.5,194.56 L204.7,195.22 L204.9,197.04 L205.1,196.59 L205.3,194.18 L205.5,195.47 L205.7,195.48 L205.9,196.44 L206.1,196.66 L206.3,195.06 L206.5,194.63 L206.7,195.32 L206.9,195.38 L207.1,193.55 L207.3,194.99 L207.5,194.30 L207.7,195.93 L207.9,195.14 L208.1,194.84 L208.3,195.31 L208.5,194.63 L208.7,194.93 L208.9,195.04 L209.1,193.48 L209.3,195.48 L209.5,195.66 L209.7,195.53 L209.9,195.79 L210.1,194.10 L210.3,195.20 L210.5,195.02 L210.7,195.10 L210.9,194.33 L211.1,194.55 L211.3,195.05 L211.5,194.23 L211.7,194.82 L211.9,194.23 L212.1,195.34 L212.3,196.49 L212.5,195.35 L212.7,194.96 L212.9,194.02 L213.1,194.59 L213.3,195.61 L213.5,195.17 L213.7,194.73 L213.9,193.57 L214.1,194.09 L214.3,195.35 L214.5,194.26 L214.7,195.53 L214.9,195.05 L215.1,194.29 L215.3,196.40 L215.5,193.05 L215.7,194.58 L215.9,193.77 L216.1,194.62 L216.3,195.33 L216.5,195.90 L216.7,195.24 L216.9,194.84 L217.1,195.09 L217.3,194.04 L217.5,194.89 L217.7,195.62 L217.9,195.23 L218.1,195.59 L218.3,194.77 L218.5,195.61 L218.7,195.02 L218.9,194.44 L219.1,193.91 L219.3,193.33 L219.5,194.39 L219.7,194.63 L219.9,195.10 L220.1,194.49 L220.3,194.08 L220.5,195.33 L220.7,195.51 L220.9,195.60 L221.1,195.35 L221.3,194.56 L221.5,195.23 L221.7,195.36 L221.9,195.79 L222.1,195.00 L222.3,194.40 L222.5,196.05 L222.7,196.16 L222.9,195.31 L223.1,193.91 L223.3,194.97 L223.5,196.12 L223.7,194.79 L223.9,194.81 L224.1,196.15 L224.3,195.57 L224.5,195.54 L224.7,194.95 L224.9,195.63 L225.1,195.50 L225.3,195.87 L225.5,194.05 L225.7,196.17 L225.9,196.58 L226.1,195.66 L226.3,195.00 L226.5,196.36 L226.7,196.44 L226.9,195.07 L227.1,195.47 L227.3,195.68 L227.5,194.91 L227.7,195.46 L227.9,196.25 L228.1,197.03 L228.3,194.31 L228.5,196.03 L228.7,194.53 L228.9,195.25 L229.1,196.08 L229.3,194.87 L229.5,195.86 L229.7,195.28 L229.9,196.08 L230.1,194.69 L230.3,197.03 L230.5,194.99 L230.7,195.32 L230.9,194.97 L231.1,196.82 L231.3,196.13 L231.5,195.94 L231.7,196.84 L231.9,194.93 L232.1,195.05 L232.3,195.99 L232.5,195.16 L232.7,195.57 L232.9,195.62 L233.1,195.50 L233.3,195.88 L233.5,194.83 L233.7,196.26 L233.9,195.55 L234.1,194.99 L234.3,195.17 L234.5,195.75 L234.7,195.61 L234.9,196.08 L235.1,196.70 L235.3,195.57 L235.5,194.39 L235.7,195.61 L235.9,195.48 L236.1,195.52 L236.3,195.37 L236.5,194.39 L236.7,195.34 L236.9,195.58 L237.1,195.42 L237.3,196.63 L237.5,196.64 L237.7,194.02 L237.9,196.72 L238.1,194.69 L238.3,195.23 L238.5,197.43 L238.7,196.69 L238.9,196.35 L239.1,194.84 L239.3,195.66 L239.5,196.00 L239.7,195.06 L239.9,195.99 L240.1,194.75 L240.3,196.64 L240.5,195.70 L240.7,195.22 L240.9,196.79 L241.1,196.31 L241.3,196.80 L241.5,194.94 L241.7,195.37 L241.9,195.69 L242.1,194.81 L242.3,195.96 L242.5,195.88 L242.7,195.59 L242.9,195.71 L243.1,194.71 L243.3,196.20 L243.5,196.74 L243.7,194.79 L243.9,194.93 L244.1,195.74 L244.3,194.83 L244.5,195.11 L244.7,195.56 L244.9,194.82 L245.1,194.45 L245.3,196.22 L245.5,194.95 L245.7,196.38 L245.9,195.25 L246.1,196.33 L246.3,195.56 L246.5,194.98 L246.7,196.40 L246.9,195.94 L247.1,195.58 L247.3,197.67 L247.5,197.35 L247.7,195.34 L247.9,195.96 L248.1,195.82 L248.3,195.52 L248.5,196.37 L248.7,196.43 L248.9,196.58 L249.1,194.94 L249.3,196.10 L249.5,196.45 L249.7,194.19 L249.9,195.29 L250.1,194.98 L250.3,195.90 L250.5,194.41 L250.7,195.31 L250.9,195.43 L251.1,195.16 L251.3,195.64 L251.5,194.54 L251.7,194.87 L251.9,194.98 L252.1,196.23 L252.3,196.67 L252.5,195.55 L252.7,195.44 L252.9,194.67 L253.1,194.78 L253.3,196.02 L253.5,196.67 L253.7,195.69 L253.9,195.47 L254.1,195.48 L254.3,196.38 L254.5,196.88 L254.7,196.00 L254.9,195.77 L255.1,196.18 L255.3,195.54 L255.5,195.99 L255.7,196.75 L255.9,196.36 L256.1,195.04 L256.3,197.29 L256.5,197.86 L256.7,195.00 L256.9,195.62 L257.1,196.19 L257.3,196.70 L257.5,194.55 L257.7,196.97 L257.9,196.73 L258.1,196.31 L258.3,195.73 L258.5,194.41 L258.7,195.75 L258.9,195.07 L259.1,195.86 L259.3,195.32 L259.5,194.76 L259.7,197.01 L259.9,197.39 L260.1,194.76 L260.3,195.80 L260.5,194.89 L260.7,196.13 L260.9,194.97 L261.1,195.91 L261.3,195.31 L261.5,196.13 L261.7,194.54 L261.9,196.03 L262.1,195.86 L262.3,196.03 L262.5,195.96 L262.7,196.51 L262.9,196.37 L263.1,195.09 L263.3,195.62 L263.5,194.97 L263.7,195.15 L263.9,196.78 L264.1,195.00 L264.3,196.29 L264.5,196.85 L264.7,196.28 L264.9,196.51 L265.1,195.11 L265.3,195.48 L265.5,195.18 L265.7,196.86 L265.9,195.96 L266.1,195.56 L266.3,195.87 L266.5,196.78 L266.7,195.17 L266.9,196.52 L267.1,196.15 L267.3,195.96 L267.5,196.24 L267.7,195.54 L267.9,195.41 L268.1,195.19 L268.3,196.46 L268.5,195.23 L268.7,195.78 L268.9,195.59 L269.1,196.76 L269.3,194.51 L269.5,195.90 L269.7,196.25 L269.9,196.42 L270.1,196.22 L270.3,196.81 L270.5,196.23 L270.7,196.00 L270.9,196.36 L271.1,196.40 L271.3,196.24 L271.5,196.37 L271.7,196.82 L271.9,197.01 L272.1,195.44 L272.3,195.62 L272.5,197.59 L272.7,196.00 L272.9,194.89 L273.1,196.13 L273.3,196.45 L273.5,196.96 L273.7,196.46 L273.9,196.72 L274.1,196.46 L274.3,197.13 L274.5,195.45 L274.7,196.49 L274.9,196.64 L275.1,196.54 L275.3,197.21 L275.5,195.71 L275.7,197.23 L275.9,196.94 L276.1,195.68 L276.3,196.36 L276.5,196.42 L276.7,195.07 L276.9,196.30 L277.1,195.82 L277.3,195.93 L277.5,195.01 L277.7,196.51 L277.9,197.17 L278.1,197.07 L278.3,196.98 L278.5,196.54 L278.7,196.83 L278.9,195.30 L279.1,195.86 L279.3,196.09 L279.5,196.18 L279.7,195.81 L279.9,196.13 L280.1,196.89 L280.3,195.33 L280.5,196.63 L280.7,196.13 L280.9,196.48 L281.1,196.38 L281.3,196.48 L281.5,196.03 L281.7,196.82 L281.9,196.92 L282.1,196.60 L282.3,195.67 L282.5,195.91 L282.7,196.28 L282.9,197.32 L283.1,196.58 L283.3,196.46 L283.5,196.86 L283.7,195.36 L283.9,196.49 L284.1,194.27 L284.3,195.75 L284.5,196.03 L284.7,195.11 L284.9,194.48 L285.1,195.11 L285.3,196.19 L285.5,196.24 L285.7,196.14 L285.9,195.83 L286.1,196.52 L286.3,196.25 L286.5,195.56 L286.7,195.90 L286.9,197.16 L287.1,195.73 L287.3,195.39 L287.5,195.35 L287.7,195.06 L287.9,195.48 L288.1,197.07 L288.3,196.71 L288.5,196.62 L288.7,196.85 L288.9,196.01 L289.1,196.18 L289.3,196.46 L289.5,197.22 L289.7,196.07 L289.9,195.46 L290.1,195.60 L290.3,197.03 L290.5,196.19 L290.7,195.32 L290.9,196.32 L291.1,196.69 L291.3,195.67 L291.5,195.75 L291.7,195.56 L291.9,195.13 L292.1,195.92 L292.3,196.54 L292.5,196.48 L292.7,196.05 L292.9,195.34 L293.1,196.41 L293.3,196.88 L293.5,196.90 L293.7,195.96 L293.9,195.72 L294.1,196.77 L294.3,196.26 L294.5,197.09 L294.7,196.70 L294.9,196.90 L295.1,196.16 L295.3,195.56 L295.5,196.55 L295.7,196.09 L295.9,196.55 L296.1,196.01 L296.3,196.49 L296.5,195.69 L296.7,196.23 L296.9,196.82 L297.1,197.04 L297.3,195.47 L297.5,196.38 L297.7,196.53 L297.9,196.41 L298.1,196.42 L298.3,196.39 L298.5,195.97 L298.7,196.59 L298.9,197.13 L299.1,195.35 L299.3,197.20 L299.5,195.60 L299.7,196.03 L299.9,195.74 L300.1,196.73 L300.3,196.25 L300.5,196.75 L300.7,195.15 L300.9,196.31" stroke="#000000" stroke-width="1.1" fill="none" stroke-linejoin="round"/><path d="M85.90,192.8 L86.40,165.8 L88.40,165.8 L89.20,192.8 Z" fill="#707070"/>
<text transform="translate(60.18,47.64) rotate(-90)" class="r" font-size="7.8" letter-spacing="0.75" stroke="#000" stroke-width="0.12">(400)</text><text transform="translate(74.08,47.64) rotate(-90)" class="r" font-size="7.8" letter-spacing="0.45" stroke="#000" stroke-width="0.12">(-401)</text><text transform="translate(83.08,46.94) rotate(-90)" class="r" font-size="7.8" letter-spacing="0.75" stroke="#000" stroke-width="0.12">(002)</text><text transform="translate(60.28,84.64) rotate(-90)" class="r" font-size="7.8" letter-spacing="0.75" stroke="#000" stroke-width="0.12">(400)</text><text transform="translate(73.28,84.04) rotate(-90)" class="r" font-size="7.8" letter-spacing="0.45" stroke="#000" stroke-width="0.12">(-401)</text><text transform="translate(83.28,88.54) rotate(-90)" class="r" font-size="7.8" letter-spacing="0.75" stroke="#000" stroke-width="0.12">(002)</text><text transform="translate(60.68,117.34) rotate(-90)" class="r" font-size="7.8" letter-spacing="0.75" stroke="#000" stroke-width="0.12">(400)</text><text transform="translate(72.18,116.14) rotate(-90)" class="r" font-size="7.8" letter-spacing="0.45" stroke="#000" stroke-width="0.12">(-401)</text><text transform="translate(83.98,119.04) rotate(-90)" class="r" font-size="7.8" letter-spacing="0.75" stroke="#000" stroke-width="0.12">(002)</text><text transform="translate(60.78,147.84) rotate(-90)" class="r" font-size="7.8" letter-spacing="0.75" stroke="#000" stroke-width="0.12">(400)</text><text transform="translate(74.98,144.64) rotate(-90)" class="r" font-size="7.8" letter-spacing="0.45" stroke="#000" stroke-width="0.12">(-401)</text><text transform="translate(83.58,149.64) rotate(-90)" class="r" font-size="7.8" letter-spacing="0.75" stroke="#000" stroke-width="0.12">(002)</text><text transform="translate(60.68,179.74) rotate(-90)" class="r" font-size="7.8" letter-spacing="0.75" stroke="#000" stroke-width="0.12">(400)</text><text transform="translate(73.18,176.74) rotate(-90)" class="r" font-size="7.8" letter-spacing="0.45" stroke="#000" stroke-width="0.12">(-401)</text><text transform="translate(81.58,181.34) rotate(-90)" class="r" font-size="7.8" letter-spacing="0.75" stroke="#000" stroke-width="0.12">(002)</text><text transform="translate(169.48,52.94) rotate(-90)" class="r" font-size="7.8" letter-spacing="0.45" stroke="#000" stroke-width="0.12">(-112)</text><text transform="translate(182.08,51.94) rotate(-90)" class="r" font-size="7.8" letter-spacing="0.45" stroke="#000" stroke-width="0.12">(-601)</text><text transform="translate(169.48,90.94) rotate(-90)" class="r" font-size="7.8" letter-spacing="0.45" stroke="#000" stroke-width="0.12">(-112)</text><text transform="translate(182.58,88.54) rotate(-90)" class="r" font-size="7.8" letter-spacing="0.45" stroke="#000" stroke-width="0.12">(-601)</text><text transform="translate(170.68,121.34) rotate(-90)" class="r" font-size="7.8" letter-spacing="0.45" stroke="#000" stroke-width="0.12">(-112)</text><text transform="translate(183.58,122.74) rotate(-90)" class="r" font-size="7.8" letter-spacing="0.45" stroke="#000" stroke-width="0.12">(-601)</text><text transform="translate(169.28,156.94) rotate(-90)" class="r" font-size="7.8" letter-spacing="0.45" stroke="#000" stroke-width="0.12">(-112)</text><text transform="translate(179.08,155.74) rotate(-90)" class="r" font-size="7.8" letter-spacing="0.45" stroke="#000" stroke-width="0.12">(-601)</text><text transform="translate(167.78,187.74) rotate(-90)" class="r" font-size="7.8" letter-spacing="0.45" stroke="#000" stroke-width="0.12">(-112)</text><text transform="translate(183.78,186.04) rotate(-90)" class="r" font-size="7.8" letter-spacing="0.45" stroke="#000" stroke-width="0.12">(-601)</text>
<text x="248.55" y="29.14" class="b" font-size="14.8" >(f)</text><text x="247.85" y="60.82" class="b" font-size="14.8" >(e)</text><text x="246.85" y="91.47" class="b" font-size="14.8" >(d)</text><text x="246.85" y="123.72" class="b" font-size="14.8" >(c)</text><text x="246.25" y="155.17" class="b" font-size="14.8" >(b)</text><text x="246.85" y="188.07" class="b" font-size="14.8" >(a)</text>
<text x="164.27" y="18.45" class="b" font-size="14.3" >(A)</text>
<line x1="96" y1="76.7" x2="103" y2="76.7" stroke="#000" stroke-width="0.9"/>
<path d="M89.4,76.7 L97.5,74.9 L96,76.7 L97.5,78.5 Z" fill="#000"/>
<text x="103.75" y="80.00" class="r" font-size="11.4" letter-spacing="0.35">Si(111)</text>
<text x="57.10" y="214.20" class="b" font-size="14.5" >30</text><text x="96.84" y="214.20" class="b" font-size="14.5" >35</text><text x="136.77" y="214.20" class="b" font-size="14.5" >40</text><text x="176.51" y="214.20" class="b" font-size="14.5" >45</text><text x="216.09" y="214.20" class="b" font-size="14.5" >50</text><text x="255.82" y="214.20" class="b" font-size="14.5" >55</text><text x="295.63" y="214.20" class="b" font-size="14.5" >60</text>
<text x="133.14" y="230.80" class="b" font-size="15.6" >2θ (degree)</text>
<text transform="translate(15.10,158.83) rotate(-90)" class="b" font-size="15.6" >Intensity (counts)</text>



<rect x="301.2" y="457.2" width="1.5" height="1.6" fill="#000"/>
<line x1="39.6" y1="259.2" x2="39.6" y2="458.2" stroke="#0000ff" stroke-width="1.5"/>
<line x1="301.9" y1="259.2" x2="301.9" y2="457.5" stroke="#f24a4a" stroke-width="1.5"/>

<line x1="39.6" y1="259.9" x2="44.6" y2="259.9" stroke="#0000ff" stroke-width="1.3"/><line x1="39.6" y1="277.8" x2="42.2" y2="277.8" stroke="#0000ff" stroke-width="1.3"/><line x1="39.6" y1="295.6" x2="44.6" y2="295.6" stroke="#0000ff" stroke-width="1.3"/><line x1="39.6" y1="313.5" x2="42.2" y2="313.5" stroke="#0000ff" stroke-width="1.3"/><line x1="39.6" y1="331.3" x2="44.6" y2="331.3" stroke="#0000ff" stroke-width="1.3"/><line x1="39.6" y1="349.2" x2="42.2" y2="349.2" stroke="#0000ff" stroke-width="1.3"/><line x1="39.6" y1="367.1" x2="44.6" y2="367.1" stroke="#0000ff" stroke-width="1.3"/><line x1="39.6" y1="384.9" x2="42.2" y2="384.9" stroke="#0000ff" stroke-width="1.3"/><line x1="39.6" y1="402.8" x2="44.6" y2="402.8" stroke="#0000ff" stroke-width="1.3"/><line x1="39.6" y1="420.6" x2="42.2" y2="420.6" stroke="#0000ff" stroke-width="1.3"/><line x1="39.6" y1="438.5" x2="44.6" y2="438.5" stroke="#0000ff" stroke-width="1.3"/><text x="21.91" y="263.70" class="b" font-size="11.6" fill="#0000ff">14</text><text x="22.09" y="299.42" class="b" font-size="11.6" fill="#0000ff">13</text><text x="22.19" y="335.14" class="b" font-size="11.6" fill="#0000ff">12</text><text x="22.95" y="370.86" class="b" font-size="11.6" fill="#0000ff">11</text><text x="22.14" y="406.58" class="b" font-size="11.6" fill="#0000ff">10</text><text x="27.92" y="442.30" class="b" font-size="11.6" fill="#0000ff">9</text><line x1="301.9" y1="260.0" x2="296.4" y2="260.0" stroke="#f24a4a" stroke-width="1.3"/><line x1="301.9" y1="272.3" x2="299.2" y2="272.3" stroke="#f24a4a" stroke-width="1.3"/><line x1="301.9" y1="284.6" x2="296.4" y2="284.6" stroke="#f24a4a" stroke-width="1.3"/><line x1="301.9" y1="296.9" x2="299.2" y2="296.9" stroke="#f24a4a" stroke-width="1.3"/><line x1="301.9" y1="309.2" x2="296.4" y2="309.2" stroke="#f24a4a" stroke-width="1.3"/><line x1="301.9" y1="321.5" x2="299.2" y2="321.5" stroke="#f24a4a" stroke-width="1.3"/><line x1="301.9" y1="333.8" x2="296.4" y2="333.8" stroke="#f24a4a" stroke-width="1.3"/><line x1="301.9" y1="346.1" x2="299.2" y2="346.1" stroke="#f24a4a" stroke-width="1.3"/><line x1="301.9" y1="358.4" x2="296.4" y2="358.4" stroke="#f24a4a" stroke-width="1.3"/><line x1="301.9" y1="370.7" x2="299.2" y2="370.7" stroke="#f24a4a" stroke-width="1.3"/><line x1="301.9" y1="383.0" x2="296.4" y2="383.0" stroke="#f24a4a" stroke-width="1.3"/><line x1="301.9" y1="395.3" x2="299.2" y2="395.3" stroke="#f24a4a" stroke-width="1.3"/><line x1="301.9" y1="407.6" x2="296.4" y2="407.6" stroke="#f24a4a" stroke-width="1.3"/><line x1="301.9" y1="419.9" x2="299.2" y2="419.9" stroke="#f24a4a" stroke-width="1.3"/><line x1="301.9" y1="432.2" x2="296.4" y2="432.2" stroke="#f24a4a" stroke-width="1.3"/><line x1="301.9" y1="444.5" x2="299.2" y2="444.5" stroke="#f24a4a" stroke-width="1.3"/><line x1="301.9" y1="456.8" x2="296.4" y2="456.8" stroke="#f24a4a" stroke-width="1.3"/><text x="307.45" y="264.00" class="b" font-size="11.9" fill="#f24a4a">0.95</text><text x="307.45" y="288.60" class="b" font-size="11.9" fill="#f24a4a">0.90</text><text x="307.45" y="313.20" class="b" font-size="11.9" fill="#f24a4a">0.85</text><text x="307.45" y="337.80" class="b" font-size="11.9" fill="#f24a4a">0.80</text><text x="307.45" y="362.40" class="b" font-size="11.9" fill="#f24a4a">0.75</text><text x="307.45" y="387.00" class="b" font-size="11.9" fill="#f24a4a">0.70</text><text x="307.45" y="411.60" class="b" font-size="11.9" fill="#f24a4a">0.65</text><text x="307.45" y="436.20" class="b" font-size="11.9" fill="#f24a4a">0.60</text><text x="307.45" y="460.80" class="b" font-size="11.9" fill="#f24a4a">0.55</text><line x1="39.6" y1="259.9" x2="210.0" y2="259.9" stroke="#000" stroke-width="1.3"/><line x1="217.4" y1="259.9" x2="296.4" y2="259.9" stroke="#000" stroke-width="1.3"/><line x1="209.3" y1="264.9" x2="213.7" y2="254.49999999999997" stroke="#000" stroke-width="1.3"/><line x1="213.8" y1="264.9" x2="218.4" y2="254.49999999999997" stroke="#000" stroke-width="1.3"/><line x1="39.6" y1="456.7" x2="210.0" y2="456.7" stroke="#000" stroke-width="1.3"/><line x1="217.4" y1="456.7" x2="296.4" y2="456.7" stroke="#000" stroke-width="1.3"/><line x1="209.3" y1="461.7" x2="213.7" y2="451.3" stroke="#000" stroke-width="1.3"/><line x1="213.8" y1="461.7" x2="218.4" y2="451.3" stroke="#000" stroke-width="1.3"/><line x1="82.4" y1="259.9" x2="82.4" y2="264.9" stroke="#111" stroke-width="1.3"/><line x1="82.4" y1="456.7" x2="82.4" y2="461.7" stroke="#111" stroke-width="1.3"/><line x1="125.4" y1="259.9" x2="125.4" y2="262.5" stroke="#111" stroke-width="1.3"/><line x1="125.4" y1="456.7" x2="125.4" y2="459.3" stroke="#111" stroke-width="1.3"/><line x1="168.4" y1="259.9" x2="168.4" y2="264.9" stroke="#111" stroke-width="1.3"/><line x1="168.4" y1="456.7" x2="168.4" y2="461.7" stroke="#111" stroke-width="1.3"/><line x1="259.0" y1="259.9" x2="259.0" y2="264.9" stroke="#111" stroke-width="1.3"/><line x1="259.0" y1="456.7" x2="259.0" y2="461.7" stroke="#111" stroke-width="1.3"/><text x="79.70" y="475.10" class="b" font-size="12.0" >0</text><text x="162.45" y="475.10" class="b" font-size="12.0" >10</text><text x="253.29" y="475.10" class="b" font-size="12.0" >50</text>
<path d="M82.4,431.71 L91.0,423.84 L108.2,418.42 L125.4,402.68 L168.4,393.82 L259.0,276.24" stroke="#f83838" stroke-width="1.3" fill="none"/>
<path d="M82.4,274.19 L91.0,282.40 L108.2,292.41 L125.4,313.48 L168.4,324.91 L259.0,439.21" stroke="#0000ff" stroke-width="1.5" fill="none"/>
<rect x="210.8" y="377.5" width="4.6" height="8" fill="#fff"/>
<rect x="209.5" y="331.8" width="5.6" height="7.6" fill="#fff"/>
<rect x="79.8" y="429.1" width="5.3" height="5.3" fill="#f83838"/><rect x="88.3" y="421.2" width="5.3" height="5.3" fill="#f83838"/><rect x="105.5" y="415.8" width="5.3" height="5.3" fill="#f83838"/><rect x="122.8" y="400.0" width="5.3" height="5.3" fill="#f83838"/><rect x="165.8" y="391.2" width="5.3" height="5.3" fill="#f83838"/><rect x="256.4" y="273.6" width="5.3" height="5.3" fill="#f83838"/>
<rect x="79.8" y="271.5" width="5.3" height="5.3" fill="#0000ff"/><rect x="88.3" y="279.8" width="5.3" height="5.3" fill="#0000ff"/><rect x="105.5" y="289.8" width="5.3" height="5.3" fill="#0000ff"/><rect x="122.8" y="310.8" width="5.3" height="5.3" fill="#0000ff"/><rect x="165.8" y="322.3" width="5.3" height="5.3" fill="#0000ff"/><rect x="256.4" y="436.6" width="5.3" height="5.3" fill="#0000ff"/>
<text x="166.88" y="278.60" class="b" font-size="14.2" >(B)</text>
<text transform="translate(11.90,439.56) rotate(-90)" class="b" font-size="15.6" >Avg. crystallite size (nm)</text>
<text transform="translate(346.40,412.65) rotate(-90)" class="b" font-size="15.6" >FWHM (degree)</text>
<text x="88.17" y="492.90" class="b" font-size="15.6" >Ion fluence (x10</text><text x="195.92" y="487.60" class="b" font-size="14.8" letter-spacing="0.3">11</text><text x="214.47" y="492.90" class="b" font-size="15.6" >cm</text><text x="234.89" y="487.20" class="b" font-size="14.2" >-2</text><text x="247.50" y="492.90" class="b" font-size="15.6" >)</text>

</svg>
</body></html>
